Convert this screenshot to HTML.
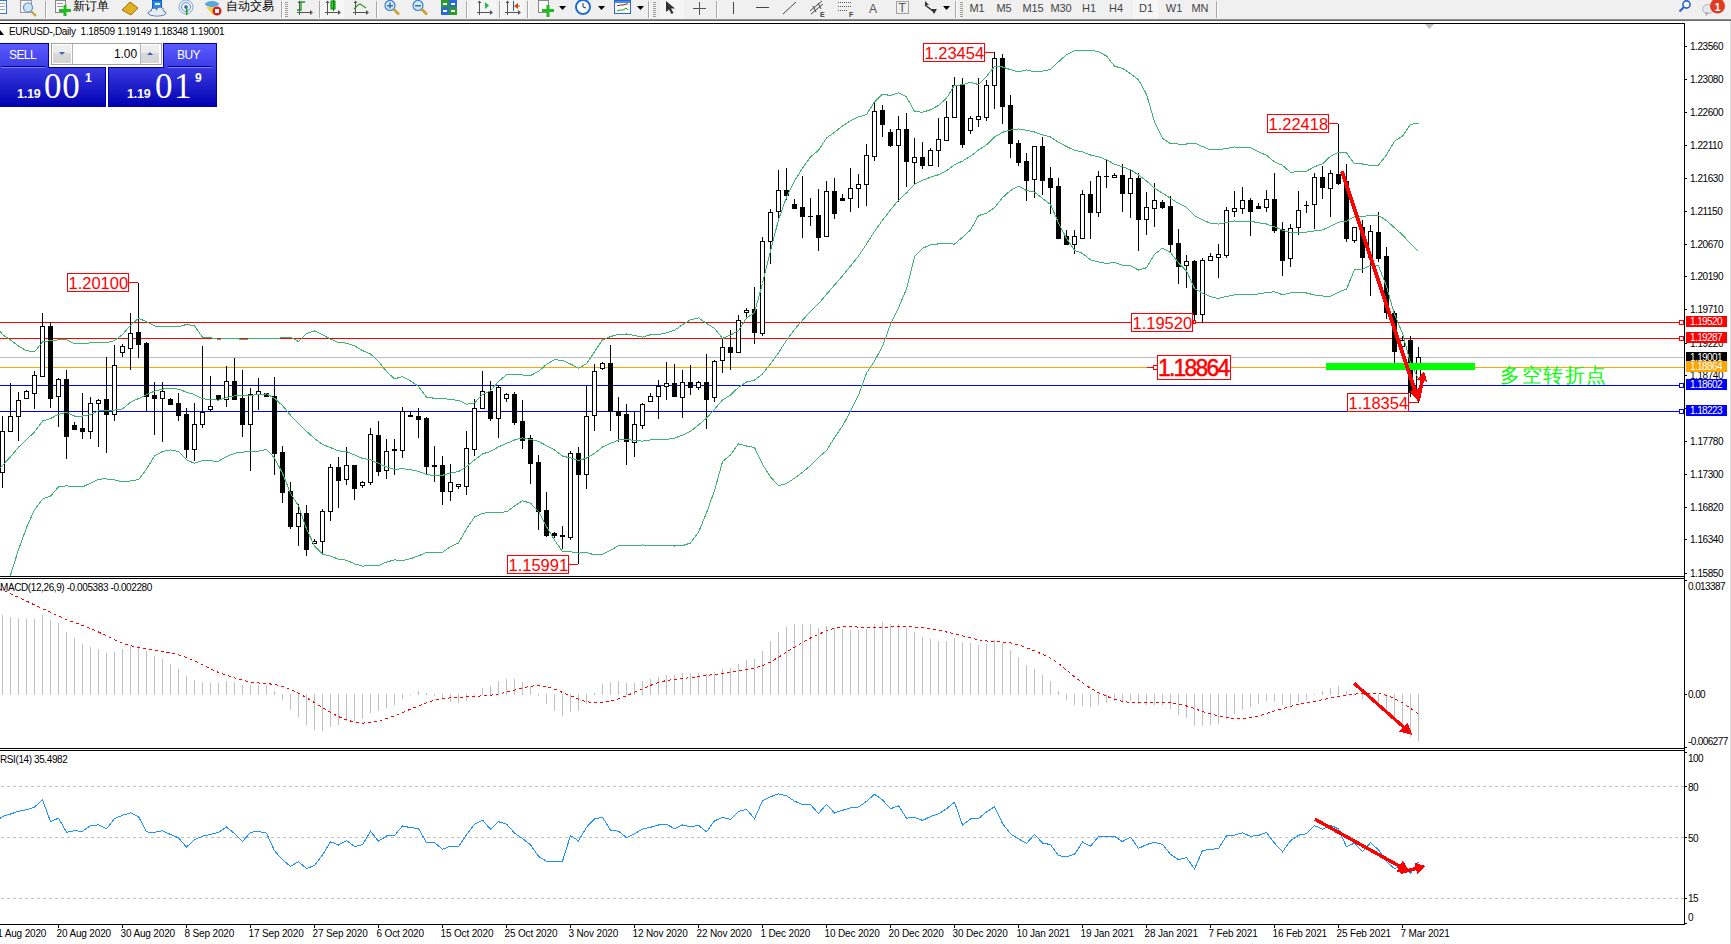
<!DOCTYPE html>
<html><head><meta charset="utf-8">
<style>
html,body{margin:0;padding:0;}
body{width:1731px;height:944px;overflow:hidden;position:relative;background:#fff;font-family:"Liberation Sans",sans-serif;}
svg text{font-family:"Liberation Sans",sans-serif;}
#tb{position:absolute;left:0;top:0;width:1731px;height:19px;background:#f0f0f0;}
#tbl1{position:absolute;left:0;top:19px;width:1731px;height:1px;background:#8c8c8c;}
#tbl2{position:absolute;left:0;top:20px;width:1731px;height:1px;background:#6a6a6a;}
#rs{position:absolute;left:1730px;top:21px;width:1px;height:923px;background:#dcdcdc;}
</style></head><body>
<div id="tb"><svg width="1731" height="19" style="position:absolute;left:0;top:0"><rect x="-6.5" y="0.5" width="13" height="13" fill="#fff" stroke="#3a78d8"/><rect x="-5" y="3" width="10" height="1" fill="#9ab"/><rect x="-5" y="6" width="10" height="1" fill="#9ab"/><rect x="-5" y="9" width="10" height="1" fill="#9ab"/><rect x="20.5" y="0.5" width="11" height="12" fill="#f4f4f4" stroke="#999"/><circle cx="28" cy="7.5" r="4.5" fill="#cfe3f5" stroke="#5b8fd0" stroke-width="1.2"/><line x1="31" y1="11" x2="36" y2="16" stroke="#c8a030" stroke-width="2"/><rect x="45" y="1" width="1" height="17" fill="#a8a8a8"/><rect x="46" y="1" width="1" height="17" fill="#ffffff"/><rect x="55.5" y="0.5" width="10" height="12" fill="#fafafa" stroke="#888"/><rect x="57" y="3" width="6" height="1" fill="#999"/><rect x="57" y="6" width="6" height="1" fill="#999"/><rect x="59" y="9" width="12" height="3" fill="#22bb22"/><rect x="63.5" y="5" width="3" height="11" fill="#22bb22"/><text x="73" y="9.8" font-size="12" fill="#000">新订单</text><polygon points="122,10 130,2 138,8 131,15" fill="#e0b020" stroke="#a07010"/><rect x="152.5" y="0.5" width="9" height="9" fill="#2a8ae8" stroke="#1060c0"/><rect x="155" y="3" width="5" height="2" fill="#dfefff"/><ellipse cx="157" cy="13" rx="9" ry="3" fill="#e8eef8" stroke="#5070a8"/><circle cx="154" cy="11" r="3" fill="#e8eef8" stroke="#5070a8"/><circle cx="160" cy="10.5" r="3.5" fill="#e8eef8" stroke="#5070a8"/><ellipse cx="157" cy="13" rx="8" ry="2.5" fill="#e8eef8"/><circle cx="186" cy="7" r="7" fill="none" stroke="#80a8e0"/><circle cx="186" cy="7" r="4.5" fill="none" stroke="#6090d8"/><circle cx="186" cy="7" r="1.8" fill="#2060d0"/><rect x="186" y="7" width="1.5" height="8" fill="#20a020"/><ellipse cx="212" cy="4" rx="7" ry="3" fill="#58a8e0"/><polygon points="206,7 219,7 213,15" fill="#f0d040"/><circle cx="217" cy="11" r="4.5" fill="#d82020"/><rect x="215" y="9" width="4" height="4" fill="#fff"/><text x="226" y="9.8" font-size="12" fill="#000">自动交易</text><rect x="281" y="1" width="1" height="17" fill="#a8a8a8"/><rect x="282" y="1" width="1" height="17" fill="#ffffff"/><rect x="285" y="2" width="3" height="1" fill="#a0a0a0"/><rect x="285" y="4" width="3" height="1" fill="#a0a0a0"/><rect x="285" y="6" width="3" height="1" fill="#a0a0a0"/><rect x="285" y="8" width="3" height="1" fill="#a0a0a0"/><rect x="285" y="10" width="3" height="1" fill="#a0a0a0"/><rect x="285" y="12" width="3" height="1" fill="#a0a0a0"/><rect x="285" y="14" width="3" height="1" fill="#a0a0a0"/><rect x="285" y="16" width="3" height="1" fill="#a0a0a0"/><rect x="299" y="1" width="1" height="14" fill="#555"/><rect x="297" y="12" width="15" height="1" fill="#555"/><polygon points="297.5,3 299.5,0.5 301.5,3" fill="#555"/><polygon points="310,10 313,12.5 310,15" fill="#555"/><polyline points="297,10 301,10 301,2 305,2" fill="none" stroke="#1a9a1a" stroke-width="1.3"/><rect x="319" y="1" width="1" height="17" fill="#a8a8a8"/><rect x="320" y="1" width="1" height="17" fill="#ffffff"/><rect x="321" y="0" width="23" height="18" fill="#f6f6f6"/><rect x="327" y="1" width="1" height="14" fill="#555"/><rect x="325" y="12" width="15" height="1" fill="#555"/><polygon points="325.5,3 327.5,0.5 329.5,3" fill="#555"/><polygon points="338,10 341,12.5 338,15" fill="#555"/><rect x="331" y="1" width="4" height="8" fill="#3c3" stroke="#080"/><rect x="333" y="0" width="1" height="11" fill="#080"/><rect x="355" y="1" width="1" height="14" fill="#555"/><rect x="353" y="12" width="15" height="1" fill="#555"/><polygon points="353.5,3 355.5,0.5 357.5,3" fill="#555"/><polygon points="366,10 369,12.5 366,15" fill="#555"/><polyline points="354,9 358,5 360,4 363,6 366,8" fill="none" stroke="#2a9a2a" stroke-width="1.2"/><rect x="376" y="1" width="1" height="17" fill="#a8a8a8"/><rect x="377" y="1" width="1" height="17" fill="#ffffff"/><circle cx="390" cy="5.5" r="5" fill="#d6ecfb" stroke="#3a80d0" stroke-width="1.2"/><line x1="393.5" y1="9" x2="399" y2="14.5" stroke="#c8a030" stroke-width="2.5"/><rect x="387" y="5" width="6" height="1.5" fill="#3a70b0"/><rect x="389.25" y="2.5" width="1.5" height="6" fill="#3a70b0"/><circle cx="418" cy="5.5" r="5" fill="#d6ecfb" stroke="#3a80d0" stroke-width="1.2"/><line x1="421.5" y1="9" x2="427" y2="14.5" stroke="#c8a030" stroke-width="2.5"/><rect x="415" y="5" width="6" height="1.5" fill="#3a70b0"/><rect x="441" y="0" width="8" height="7" fill="#2a9a2a"/><rect x="449" y="0" width="8" height="7" fill="#2a6ad8"/><rect x="441" y="7" width="8" height="8" fill="#2a6ad8"/><rect x="449" y="7" width="8" height="8" fill="#2a9a2a"/><rect x="443" y="3" width="4" height="2" fill="#fff"/><rect x="451" y="3" width="4" height="2" fill="#fff"/><rect x="443" y="10" width="4" height="2" fill="#fff"/><rect x="451" y="10" width="4" height="2" fill="#fff"/><rect x="466" y="1" width="1" height="17" fill="#a8a8a8"/><rect x="467" y="1" width="1" height="17" fill="#ffffff"/><rect x="471" y="0" width="25" height="18" fill="#f6f6f6"/><rect x="479" y="1" width="1" height="14" fill="#555"/><rect x="477" y="12" width="15" height="1" fill="#555"/><polygon points="477.5,3 479.5,0.5 481.5,3" fill="#555"/><polygon points="490,10 493,12.5 490,15" fill="#555"/><polygon points="485,2 485,9 489,5.5" fill="#22bb44"/><rect x="499" y="1" width="1" height="17" fill="#a8a8a8"/><rect x="500" y="1" width="1" height="17" fill="#ffffff"/><rect x="501" y="0" width="23" height="18" fill="#f6f6f6"/><rect x="507" y="1" width="1" height="14" fill="#555"/><rect x="505" y="12" width="15" height="1" fill="#555"/><polygon points="505.5,3 507.5,0.5 509.5,3" fill="#555"/><polygon points="518,10 521,12.5 518,15" fill="#555"/><rect x="513" y="1" width="1" height="10" fill="#2060a0"/><polygon points="514,6 518,3 518,9" fill="#e04010"/><rect x="516" y="5.5" width="4" height="1" fill="#e04010"/><rect x="527" y="1" width="1" height="17" fill="#a8a8a8"/><rect x="528" y="1" width="1" height="17" fill="#ffffff"/><rect x="538.5" y="0.5" width="10" height="12" fill="#fafafa" stroke="#888"/><rect x="542" y="9" width="12" height="3" fill="#22bb22"/><rect x="546.5" y="5" width="3" height="12" fill="#22bb22"/><polygon points="559,6 566,6 562.5,10" fill="#000"/><circle cx="583" cy="7" r="7" fill="#fff" stroke="#1e70d0" stroke-width="2"/><line x1="583" y1="3" x2="583" y2="7" stroke="#333"/><line x1="583" y1="7" x2="586" y2="8" stroke="#333"/><polygon points="598,6 605,6 601.5,10" fill="#000"/><rect x="614.5" y="0.5" width="16" height="13" fill="#fff" stroke="#2a6ad0"/><rect x="615" y="1" width="15" height="2" fill="#4a8ae0"/><polyline points="617,6 620,5 623,5 626,4 628,4" fill="none" stroke="#a02010"/><polyline points="617,11 620,10 623,10 626,8 628,10" fill="none" stroke="#20a020"/><polygon points="637,6 644,6 640.5,10" fill="#000"/><rect x="648" y="1" width="1" height="17" fill="#a8a8a8"/><rect x="649" y="1" width="1" height="17" fill="#ffffff"/><rect x="653" y="2" width="3" height="1" fill="#a0a0a0"/><rect x="653" y="4" width="3" height="1" fill="#a0a0a0"/><rect x="653" y="6" width="3" height="1" fill="#a0a0a0"/><rect x="653" y="8" width="3" height="1" fill="#a0a0a0"/><rect x="653" y="10" width="3" height="1" fill="#a0a0a0"/><rect x="653" y="12" width="3" height="1" fill="#a0a0a0"/><rect x="653" y="14" width="3" height="1" fill="#a0a0a0"/><rect x="653" y="16" width="3" height="1" fill="#a0a0a0"/><rect x="660" y="0" width="24" height="18" fill="#f6f6f6"/><polygon points="666,1 666,12 669,9.5 671.5,14 673.5,13 671,8.5 675,8.5" fill="#333"/><rect x="699" y="2" width="1" height="13" fill="#555"/><rect x="693" y="8" width="13" height="1" fill="#555"/><rect x="716" y="1" width="1" height="17" fill="#a8a8a8"/><rect x="717" y="1" width="1" height="17" fill="#ffffff"/><rect x="733" y="2" width="1" height="12" fill="#444"/><rect x="756" y="7" width="13" height="1" fill="#444"/><line x1="783" y1="14" x2="796" y2="2" stroke="#444"/><line x1="810" y1="11" x2="822" y2="1" stroke="#444"/><line x1="811" y1="14" x2="823" y2="4" stroke="#444"/><line x1="813" y1="6" x2="816" y2="12" stroke="#444"/><line x1="818" y1="3" x2="821" y2="9" stroke="#444"/><text x="820" y="17" font-size="7" font-weight="bold" fill="#444">E</text><line x1="838" y1="2.5" x2="852" y2="2.5" stroke="#555" stroke-dasharray="1 1"/><line x1="838" y1="6.5" x2="852" y2="6.5" stroke="#555" stroke-dasharray="1 1"/><line x1="838" y1="10.5" x2="848" y2="10.5" stroke="#555" stroke-dasharray="1 1"/><text x="849" y="17" font-size="7" font-weight="bold" fill="#444">F</text><text x="869" y="12.5" font-size="12" fill="#555">A</text><rect x="896.5" y="1.5" width="12" height="12" fill="none" stroke="#555" stroke-dasharray="1 1"/><text x="898.5" y="12" font-size="12" fill="#555">T</text><polygon points="925,1 929,5 925,5" fill="#333"/><line x1="925" y1="5" x2="933" y2="11" stroke="#333" stroke-width="1.5"/><polygon points="931,9 937,9 934,14" fill="#333"/><polygon points="943,6 950,6 946.5,10" fill="#000"/><rect x="955" y="1" width="1" height="17" fill="#a8a8a8"/><rect x="956" y="1" width="1" height="17" fill="#ffffff"/><rect x="960" y="2" width="3" height="1" fill="#a0a0a0"/><rect x="960" y="4" width="3" height="1" fill="#a0a0a0"/><rect x="960" y="6" width="3" height="1" fill="#a0a0a0"/><rect x="960" y="8" width="3" height="1" fill="#a0a0a0"/><rect x="960" y="10" width="3" height="1" fill="#a0a0a0"/><rect x="960" y="12" width="3" height="1" fill="#a0a0a0"/><rect x="960" y="14" width="3" height="1" fill="#a0a0a0"/><rect x="960" y="16" width="3" height="1" fill="#a0a0a0"/><rect x="1133" y="0" width="25" height="18" fill="#f6f6f6"/><text x="977" y="12" font-size="11" fill="#444" text-anchor="middle" letter-spacing="-0.1">M1</text><text x="1004" y="12" font-size="11" fill="#444" text-anchor="middle" letter-spacing="-0.1">M5</text><text x="1033" y="12" font-size="11" fill="#444" text-anchor="middle" letter-spacing="-0.1">M15</text><text x="1061" y="12" font-size="11" fill="#444" text-anchor="middle" letter-spacing="-0.1">M30</text><text x="1089" y="12" font-size="11" fill="#444" text-anchor="middle" letter-spacing="-0.1">H1</text><text x="1116" y="12" font-size="11" fill="#444" text-anchor="middle" letter-spacing="-0.1">H4</text><text x="1146" y="12" font-size="11" fill="#444" text-anchor="middle" letter-spacing="-0.1">D1</text><text x="1174" y="12" font-size="11" fill="#444" text-anchor="middle" letter-spacing="-0.1">W1</text><text x="1200" y="12" font-size="11" fill="#444" text-anchor="middle" letter-spacing="-0.1">MN</text><rect x="1216" y="1" width="1" height="17" fill="#a8a8a8"/><rect x="1217" y="1" width="1" height="17" fill="#ffffff"/><circle cx="1686.5" cy="4.5" r="3.6" fill="#fff" stroke="#2a62d0" stroke-width="1.6"/><line x1="1684" y1="7" x2="1679.5" y2="11.5" stroke="#2a62d0" stroke-width="2.2"/><ellipse cx="1708" cy="9" rx="5.5" ry="4.5" fill="#e6e8f0" stroke="#b8b8b8"/><polygon points="1705,12 1706,16 1709,13" fill="#aaa"/><circle cx="1717.5" cy="6" r="7.5" fill="#e03a20"/><text x="1717.5" y="10.5" font-size="11" font-family="Liberation Serif" font-weight="bold" fill="#fff" text-anchor="middle">1</text></svg></div><div id="tbl1"></div><div id="tbl2"></div>
<svg width="1731" height="944" style="position:absolute;left:0;top:0">
<defs><clipPath id="cpm"><rect x="0" y="24" width="1684" height="552"/></clipPath></defs>
<g shape-rendering="crispEdges"><rect x="0" y="23" width="1685" height="1" fill="#000"/>
<rect x="1684" y="23" width="1" height="902" fill="#000"/>
<rect x="0" y="576" width="1685" height="1" fill="#000"/>
<rect x="0" y="578" width="1685" height="1" fill="#000"/>
<rect x="0" y="748" width="1685" height="1" fill="#000"/>
<rect x="0" y="750" width="1685" height="1" fill="#000"/>
<rect x="0" y="924" width="1685" height="1" fill="#000"/>
<rect x="0" y="322" width="1684" height="1" fill="#ff0000"/>
<rect x="0" y="338" width="1684" height="1" fill="#ff0000"/>
<rect x="0" y="357" width="1684" height="1" fill="#c0c0c0"/>
<rect x="0" y="367" width="1684" height="1" fill="#ffa500"/>
<rect x="0" y="385" width="1684" height="1" fill="#0000ff"/>
<rect x="0" y="411" width="1684" height="1" fill="#0000ff"/>
<line x1="1" y1="786.5" x2="1684" y2="786.5" stroke="#c0c0c0" stroke-width="1" stroke-dasharray="3 3"/>
<line x1="1" y1="837.5" x2="1684" y2="837.5" stroke="#c0c0c0" stroke-width="1" stroke-dasharray="3 3"/>
<line x1="1" y1="898.5" x2="1684" y2="898.5" stroke="#c0c0c0" stroke-width="1" stroke-dasharray="3 3"/>
<rect x="2" y="416" width="1" height="72" fill="#000"/>
<rect x="0" y="431" width="5" height="42" fill="#000"/>
<rect x="1" y="432" width="3" height="40" fill="#fff"/>
<rect x="10" y="383" width="1" height="49" fill="#000"/>
<rect x="8" y="416" width="5" height="16" fill="#000"/>
<rect x="9" y="417" width="3" height="14" fill="#fff"/>
<rect x="18" y="392" width="1" height="49" fill="#000"/>
<rect x="16" y="400" width="5" height="17" fill="#000"/>
<rect x="17" y="401" width="3" height="15" fill="#fff"/>
<rect x="26" y="390" width="1" height="9" fill="#000"/>
<rect x="24" y="391" width="5" height="8" fill="#000"/>
<rect x="25" y="392" width="3" height="6" fill="#fff"/>
<rect x="34" y="371" width="1" height="38" fill="#000"/>
<rect x="32" y="375" width="5" height="19" fill="#000"/>
<rect x="33" y="376" width="3" height="17" fill="#fff"/>
<rect x="42" y="313" width="1" height="64" fill="#000"/>
<rect x="40" y="326" width="5" height="51" fill="#000"/>
<rect x="41" y="327" width="3" height="49" fill="#fff"/>
<rect x="50" y="322" width="1" height="86" fill="#000"/>
<rect x="48" y="326" width="5" height="73" fill="#000"/>
<rect x="58" y="378" width="1" height="49" fill="#000"/>
<rect x="56" y="379" width="5" height="18" fill="#000"/>
<rect x="57" y="380" width="3" height="16" fill="#fff"/>
<rect x="66" y="370" width="1" height="89" fill="#000"/>
<rect x="64" y="379" width="5" height="58" fill="#000"/>
<rect x="74" y="422" width="1" height="8" fill="#000"/>
<rect x="72" y="425" width="5" height="5" fill="#000"/>
<rect x="82" y="393" width="1" height="46" fill="#000"/>
<rect x="80" y="428" width="5" height="4" fill="#000"/>
<rect x="90" y="397" width="1" height="42" fill="#000"/>
<rect x="88" y="403" width="5" height="29" fill="#000"/>
<rect x="89" y="404" width="3" height="27" fill="#fff"/>
<rect x="98" y="399" width="1" height="48" fill="#000"/>
<rect x="96" y="400" width="5" height="4" fill="#000"/>
<rect x="97" y="401" width="3" height="2" fill="#fff"/>
<rect x="106" y="357" width="1" height="96" fill="#000"/>
<rect x="104" y="399" width="5" height="16" fill="#000"/>
<rect x="114" y="345" width="1" height="76" fill="#000"/>
<rect x="112" y="365" width="5" height="50" fill="#000"/>
<rect x="113" y="366" width="3" height="48" fill="#fff"/>
<rect x="122" y="344" width="1" height="13" fill="#000"/>
<rect x="120" y="346" width="5" height="7" fill="#000"/>
<rect x="121" y="347" width="3" height="5" fill="#fff"/>
<rect x="130" y="313" width="1" height="57" fill="#000"/>
<rect x="128" y="333" width="5" height="16" fill="#000"/>
<rect x="129" y="334" width="3" height="14" fill="#fff"/>
<rect x="138" y="283" width="1" height="75" fill="#000"/>
<rect x="136" y="332" width="5" height="13" fill="#000"/>
<rect x="146" y="342" width="1" height="70" fill="#000"/>
<rect x="144" y="343" width="5" height="54" fill="#000"/>
<rect x="154" y="382" width="1" height="53" fill="#000"/>
<rect x="152" y="395" width="5" height="4" fill="#000"/>
<rect x="162" y="382" width="1" height="60" fill="#000"/>
<rect x="160" y="391" width="5" height="8" fill="#000"/>
<rect x="161" y="392" width="3" height="6" fill="#fff"/>
<rect x="170" y="398" width="1" height="7" fill="#000"/>
<rect x="168" y="399" width="5" height="6" fill="#000"/>
<rect x="178" y="393" width="1" height="28" fill="#000"/>
<rect x="176" y="403" width="5" height="13" fill="#000"/>
<rect x="186" y="408" width="1" height="50" fill="#000"/>
<rect x="184" y="414" width="5" height="36" fill="#000"/>
<rect x="194" y="403" width="1" height="58" fill="#000"/>
<rect x="192" y="424" width="5" height="26" fill="#000"/>
<rect x="193" y="425" width="3" height="24" fill="#fff"/>
<rect x="202" y="346" width="1" height="82" fill="#000"/>
<rect x="200" y="412" width="5" height="13" fill="#000"/>
<rect x="201" y="413" width="3" height="11" fill="#fff"/>
<rect x="210" y="376" width="1" height="36" fill="#000"/>
<rect x="208" y="406" width="5" height="4" fill="#000"/>
<rect x="209" y="407" width="3" height="2" fill="#fff"/>
<rect x="218" y="395" width="1" height="6" fill="#000"/>
<rect x="216" y="395" width="5" height="5" fill="#000"/>
<rect x="226" y="366" width="1" height="41" fill="#000"/>
<rect x="224" y="381" width="5" height="19" fill="#000"/>
<rect x="225" y="382" width="3" height="17" fill="#fff"/>
<rect x="234" y="358" width="1" height="42" fill="#000"/>
<rect x="232" y="381" width="5" height="19" fill="#000"/>
<rect x="242" y="370" width="1" height="67" fill="#000"/>
<rect x="240" y="398" width="5" height="27" fill="#000"/>
<rect x="250" y="388" width="1" height="83" fill="#000"/>
<rect x="248" y="394" width="5" height="31" fill="#000"/>
<rect x="249" y="395" width="3" height="29" fill="#fff"/>
<rect x="258" y="378" width="1" height="32" fill="#000"/>
<rect x="256" y="391" width="5" height="4" fill="#000"/>
<rect x="257" y="392" width="3" height="2" fill="#fff"/>
<rect x="266" y="393" width="1" height="4" fill="#000"/>
<rect x="264" y="393" width="5" height="4" fill="#000"/>
<rect x="274" y="377" width="1" height="98" fill="#000"/>
<rect x="272" y="396" width="5" height="58" fill="#000"/>
<rect x="282" y="446" width="1" height="57" fill="#000"/>
<rect x="280" y="452" width="5" height="41" fill="#000"/>
<rect x="290" y="482" width="1" height="47" fill="#000"/>
<rect x="288" y="491" width="5" height="36" fill="#000"/>
<rect x="298" y="504" width="1" height="42" fill="#000"/>
<rect x="296" y="513" width="5" height="14" fill="#000"/>
<rect x="297" y="514" width="3" height="12" fill="#fff"/>
<rect x="306" y="505" width="1" height="51" fill="#000"/>
<rect x="304" y="513" width="5" height="37" fill="#000"/>
<rect x="314" y="539" width="1" height="5" fill="#000"/>
<rect x="312" y="541" width="5" height="3" fill="#000"/>
<rect x="313" y="542" width="3" height="1" fill="#fff"/>
<rect x="322" y="509" width="1" height="45" fill="#000"/>
<rect x="320" y="511" width="5" height="31" fill="#000"/>
<rect x="321" y="512" width="3" height="29" fill="#fff"/>
<rect x="330" y="464" width="1" height="57" fill="#000"/>
<rect x="328" y="467" width="5" height="45" fill="#000"/>
<rect x="329" y="468" width="3" height="43" fill="#fff"/>
<rect x="338" y="457" width="1" height="51" fill="#000"/>
<rect x="336" y="467" width="5" height="14" fill="#000"/>
<rect x="346" y="447" width="1" height="38" fill="#000"/>
<rect x="344" y="465" width="5" height="15" fill="#000"/>
<rect x="345" y="466" width="3" height="13" fill="#fff"/>
<rect x="354" y="465" width="1" height="35" fill="#000"/>
<rect x="352" y="465" width="5" height="24" fill="#000"/>
<rect x="362" y="481" width="1" height="7" fill="#000"/>
<rect x="360" y="482" width="5" height="4" fill="#000"/>
<rect x="361" y="483" width="3" height="2" fill="#fff"/>
<rect x="370" y="428" width="1" height="57" fill="#000"/>
<rect x="368" y="434" width="5" height="49" fill="#000"/>
<rect x="369" y="435" width="3" height="47" fill="#fff"/>
<rect x="378" y="421" width="1" height="55" fill="#000"/>
<rect x="376" y="435" width="5" height="37" fill="#000"/>
<rect x="386" y="439" width="1" height="40" fill="#000"/>
<rect x="384" y="451" width="5" height="20" fill="#000"/>
<rect x="385" y="452" width="3" height="18" fill="#fff"/>
<rect x="394" y="439" width="1" height="36" fill="#000"/>
<rect x="392" y="449" width="5" height="2" fill="#000"/>
<rect x="402" y="407" width="1" height="51" fill="#000"/>
<rect x="400" y="411" width="5" height="40" fill="#000"/>
<rect x="401" y="412" width="3" height="38" fill="#fff"/>
<rect x="410" y="412" width="1" height="5" fill="#000"/>
<rect x="408" y="415" width="5" height="2" fill="#000"/>
<rect x="418" y="408" width="1" height="30" fill="#000"/>
<rect x="416" y="416" width="5" height="4" fill="#000"/>
<rect x="426" y="417" width="1" height="58" fill="#000"/>
<rect x="424" y="418" width="5" height="49" fill="#000"/>
<rect x="434" y="446" width="1" height="36" fill="#000"/>
<rect x="432" y="465" width="5" height="2" fill="#000"/>
<rect x="442" y="456" width="1" height="49" fill="#000"/>
<rect x="440" y="465" width="5" height="27" fill="#000"/>
<rect x="450" y="464" width="1" height="37" fill="#000"/>
<rect x="448" y="482" width="5" height="10" fill="#000"/>
<rect x="449" y="483" width="3" height="8" fill="#fff"/>
<rect x="458" y="484" width="1" height="5" fill="#000"/>
<rect x="456" y="484" width="5" height="3" fill="#000"/>
<rect x="457" y="485" width="3" height="1" fill="#fff"/>
<rect x="466" y="431" width="1" height="64" fill="#000"/>
<rect x="464" y="448" width="5" height="39" fill="#000"/>
<rect x="465" y="449" width="3" height="37" fill="#fff"/>
<rect x="474" y="399" width="1" height="57" fill="#000"/>
<rect x="472" y="408" width="5" height="42" fill="#000"/>
<rect x="473" y="409" width="3" height="40" fill="#fff"/>
<rect x="482" y="371" width="1" height="38" fill="#000"/>
<rect x="480" y="391" width="5" height="18" fill="#000"/>
<rect x="481" y="392" width="3" height="16" fill="#fff"/>
<rect x="490" y="381" width="1" height="40" fill="#000"/>
<rect x="488" y="391" width="5" height="28" fill="#000"/>
<rect x="498" y="385" width="1" height="53" fill="#000"/>
<rect x="496" y="387" width="5" height="32" fill="#000"/>
<rect x="497" y="388" width="3" height="30" fill="#fff"/>
<rect x="506" y="393" width="1" height="9" fill="#000"/>
<rect x="504" y="394" width="5" height="5" fill="#000"/>
<rect x="505" y="395" width="3" height="3" fill="#fff"/>
<rect x="514" y="392" width="1" height="33" fill="#000"/>
<rect x="512" y="394" width="5" height="29" fill="#000"/>
<rect x="522" y="400" width="1" height="49" fill="#000"/>
<rect x="520" y="421" width="5" height="20" fill="#000"/>
<rect x="530" y="435" width="1" height="49" fill="#000"/>
<rect x="528" y="438" width="5" height="26" fill="#000"/>
<rect x="538" y="455" width="1" height="75" fill="#000"/>
<rect x="536" y="462" width="5" height="50" fill="#000"/>
<rect x="546" y="492" width="1" height="45" fill="#000"/>
<rect x="544" y="510" width="5" height="26" fill="#000"/>
<rect x="554" y="532" width="1" height="6" fill="#000"/>
<rect x="552" y="533" width="5" height="3" fill="#000"/>
<rect x="562" y="526" width="1" height="23" fill="#000"/>
<rect x="560" y="535" width="5" height="2" fill="#000"/>
<rect x="570" y="451" width="1" height="89" fill="#000"/>
<rect x="568" y="453" width="5" height="85" fill="#000"/>
<rect x="569" y="454" width="3" height="83" fill="#fff"/>
<rect x="578" y="447" width="1" height="117" fill="#000"/>
<rect x="576" y="453" width="5" height="22" fill="#000"/>
<rect x="586" y="386" width="1" height="103" fill="#000"/>
<rect x="584" y="416" width="5" height="59" fill="#000"/>
<rect x="585" y="417" width="3" height="57" fill="#fff"/>
<rect x="594" y="364" width="1" height="67" fill="#000"/>
<rect x="592" y="371" width="5" height="45" fill="#000"/>
<rect x="593" y="372" width="3" height="43" fill="#fff"/>
<rect x="602" y="362" width="1" height="8" fill="#000"/>
<rect x="600" y="363" width="5" height="6" fill="#000"/>
<rect x="601" y="364" width="3" height="4" fill="#fff"/>
<rect x="610" y="345" width="1" height="86" fill="#000"/>
<rect x="608" y="363" width="5" height="49" fill="#000"/>
<rect x="618" y="397" width="1" height="45" fill="#000"/>
<rect x="616" y="411" width="5" height="5" fill="#000"/>
<rect x="626" y="404" width="1" height="61" fill="#000"/>
<rect x="624" y="414" width="5" height="28" fill="#000"/>
<rect x="634" y="411" width="1" height="46" fill="#000"/>
<rect x="632" y="424" width="5" height="19" fill="#000"/>
<rect x="633" y="425" width="3" height="17" fill="#fff"/>
<rect x="642" y="403" width="1" height="26" fill="#000"/>
<rect x="640" y="404" width="5" height="22" fill="#000"/>
<rect x="641" y="405" width="3" height="20" fill="#fff"/>
<rect x="650" y="393" width="1" height="9" fill="#000"/>
<rect x="648" y="396" width="5" height="6" fill="#000"/>
<rect x="649" y="397" width="3" height="4" fill="#fff"/>
<rect x="658" y="380" width="1" height="39" fill="#000"/>
<rect x="656" y="386" width="5" height="11" fill="#000"/>
<rect x="657" y="387" width="3" height="9" fill="#fff"/>
<rect x="666" y="362" width="1" height="38" fill="#000"/>
<rect x="664" y="383" width="5" height="4" fill="#000"/>
<rect x="665" y="384" width="3" height="2" fill="#fff"/>
<rect x="674" y="364" width="1" height="33" fill="#000"/>
<rect x="672" y="383" width="5" height="14" fill="#000"/>
<rect x="682" y="370" width="1" height="48" fill="#000"/>
<rect x="680" y="382" width="5" height="16" fill="#000"/>
<rect x="681" y="383" width="3" height="14" fill="#fff"/>
<rect x="690" y="365" width="1" height="30" fill="#000"/>
<rect x="688" y="382" width="5" height="6" fill="#000"/>
<rect x="698" y="381" width="1" height="9" fill="#000"/>
<rect x="696" y="382" width="5" height="6" fill="#000"/>
<rect x="697" y="383" width="3" height="4" fill="#fff"/>
<rect x="706" y="354" width="1" height="75" fill="#000"/>
<rect x="704" y="382" width="5" height="18" fill="#000"/>
<rect x="714" y="360" width="1" height="42" fill="#000"/>
<rect x="712" y="361" width="5" height="37" fill="#000"/>
<rect x="713" y="362" width="3" height="35" fill="#fff"/>
<rect x="722" y="338" width="1" height="35" fill="#000"/>
<rect x="720" y="347" width="5" height="14" fill="#000"/>
<rect x="721" y="348" width="3" height="12" fill="#fff"/>
<rect x="730" y="330" width="1" height="40" fill="#000"/>
<rect x="728" y="347" width="5" height="6" fill="#000"/>
<rect x="738" y="315" width="1" height="38" fill="#000"/>
<rect x="736" y="320" width="5" height="33" fill="#000"/>
<rect x="737" y="321" width="3" height="31" fill="#fff"/>
<rect x="746" y="308" width="1" height="9" fill="#000"/>
<rect x="744" y="310" width="5" height="3" fill="#000"/>
<rect x="745" y="311" width="3" height="1" fill="#fff"/>
<rect x="754" y="287" width="1" height="57" fill="#000"/>
<rect x="752" y="309" width="5" height="24" fill="#000"/>
<rect x="762" y="237" width="1" height="99" fill="#000"/>
<rect x="760" y="241" width="5" height="93" fill="#000"/>
<rect x="761" y="242" width="3" height="91" fill="#fff"/>
<rect x="770" y="209" width="1" height="55" fill="#000"/>
<rect x="768" y="212" width="5" height="30" fill="#000"/>
<rect x="769" y="213" width="3" height="28" fill="#fff"/>
<rect x="778" y="170" width="1" height="51" fill="#000"/>
<rect x="776" y="190" width="5" height="22" fill="#000"/>
<rect x="777" y="191" width="3" height="20" fill="#fff"/>
<rect x="786" y="168" width="1" height="32" fill="#000"/>
<rect x="784" y="190" width="5" height="6" fill="#000"/>
<rect x="794" y="199" width="1" height="10" fill="#000"/>
<rect x="792" y="204" width="5" height="5" fill="#000"/>
<rect x="802" y="176" width="1" height="62" fill="#000"/>
<rect x="800" y="207" width="5" height="10" fill="#000"/>
<rect x="810" y="198" width="1" height="28" fill="#000"/>
<rect x="808" y="216" width="5" height="1" fill="#000"/>
<rect x="818" y="189" width="1" height="62" fill="#000"/>
<rect x="816" y="215" width="5" height="23" fill="#000"/>
<rect x="826" y="181" width="1" height="56" fill="#000"/>
<rect x="824" y="191" width="5" height="46" fill="#000"/>
<rect x="825" y="192" width="3" height="44" fill="#fff"/>
<rect x="834" y="178" width="1" height="41" fill="#000"/>
<rect x="832" y="191" width="5" height="23" fill="#000"/>
<rect x="842" y="194" width="1" height="7" fill="#000"/>
<rect x="840" y="198" width="5" height="3" fill="#000"/>
<rect x="850" y="168" width="1" height="44" fill="#000"/>
<rect x="848" y="188" width="5" height="11" fill="#000"/>
<rect x="849" y="189" width="3" height="9" fill="#fff"/>
<rect x="858" y="174" width="1" height="34" fill="#000"/>
<rect x="856" y="184" width="5" height="5" fill="#000"/>
<rect x="857" y="185" width="3" height="3" fill="#fff"/>
<rect x="866" y="144" width="1" height="62" fill="#000"/>
<rect x="864" y="155" width="5" height="30" fill="#000"/>
<rect x="865" y="156" width="3" height="28" fill="#fff"/>
<rect x="874" y="103" width="1" height="58" fill="#000"/>
<rect x="872" y="111" width="5" height="46" fill="#000"/>
<rect x="873" y="112" width="3" height="44" fill="#fff"/>
<rect x="882" y="105" width="1" height="32" fill="#000"/>
<rect x="880" y="110" width="5" height="15" fill="#000"/>
<rect x="890" y="129" width="1" height="18" fill="#000"/>
<rect x="888" y="132" width="5" height="14" fill="#000"/>
<rect x="898" y="116" width="1" height="86" fill="#000"/>
<rect x="896" y="129" width="5" height="17" fill="#000"/>
<rect x="897" y="130" width="3" height="15" fill="#fff"/>
<rect x="906" y="113" width="1" height="74" fill="#000"/>
<rect x="904" y="129" width="5" height="33" fill="#000"/>
<rect x="914" y="138" width="1" height="47" fill="#000"/>
<rect x="912" y="157" width="5" height="6" fill="#000"/>
<rect x="913" y="158" width="3" height="4" fill="#fff"/>
<rect x="922" y="142" width="1" height="27" fill="#000"/>
<rect x="920" y="157" width="5" height="9" fill="#000"/>
<rect x="930" y="148" width="1" height="18" fill="#000"/>
<rect x="928" y="150" width="5" height="16" fill="#000"/>
<rect x="929" y="151" width="3" height="14" fill="#fff"/>
<rect x="938" y="118" width="1" height="49" fill="#000"/>
<rect x="936" y="139" width="5" height="12" fill="#000"/>
<rect x="937" y="140" width="3" height="10" fill="#fff"/>
<rect x="946" y="101" width="1" height="40" fill="#000"/>
<rect x="944" y="117" width="5" height="24" fill="#000"/>
<rect x="945" y="118" width="3" height="22" fill="#fff"/>
<rect x="954" y="77" width="1" height="41" fill="#000"/>
<rect x="952" y="85" width="5" height="33" fill="#000"/>
<rect x="953" y="86" width="3" height="31" fill="#fff"/>
<rect x="962" y="78" width="1" height="70" fill="#000"/>
<rect x="960" y="85" width="5" height="60" fill="#000"/>
<rect x="970" y="116" width="1" height="18" fill="#000"/>
<rect x="968" y="118" width="5" height="13" fill="#000"/>
<rect x="969" y="119" width="3" height="11" fill="#fff"/>
<rect x="978" y="78" width="1" height="49" fill="#000"/>
<rect x="976" y="116" width="5" height="4" fill="#000"/>
<rect x="977" y="117" width="3" height="2" fill="#fff"/>
<rect x="986" y="80" width="1" height="41" fill="#000"/>
<rect x="984" y="85" width="5" height="33" fill="#000"/>
<rect x="985" y="86" width="3" height="31" fill="#fff"/>
<rect x="994" y="52" width="1" height="57" fill="#000"/>
<rect x="992" y="58" width="5" height="28" fill="#000"/>
<rect x="993" y="59" width="3" height="26" fill="#fff"/>
<rect x="1002" y="54" width="1" height="70" fill="#000"/>
<rect x="1000" y="58" width="5" height="49" fill="#000"/>
<rect x="1010" y="95" width="1" height="63" fill="#000"/>
<rect x="1008" y="105" width="5" height="39" fill="#000"/>
<rect x="1018" y="140" width="1" height="26" fill="#000"/>
<rect x="1016" y="143" width="5" height="20" fill="#000"/>
<rect x="1026" y="153" width="1" height="48" fill="#000"/>
<rect x="1024" y="161" width="5" height="20" fill="#000"/>
<rect x="1034" y="146" width="1" height="52" fill="#000"/>
<rect x="1032" y="146" width="5" height="34" fill="#000"/>
<rect x="1033" y="147" width="3" height="32" fill="#fff"/>
<rect x="1042" y="137" width="1" height="58" fill="#000"/>
<rect x="1040" y="146" width="5" height="35" fill="#000"/>
<rect x="1050" y="167" width="1" height="47" fill="#000"/>
<rect x="1048" y="178" width="5" height="10" fill="#000"/>
<rect x="1058" y="178" width="1" height="61" fill="#000"/>
<rect x="1056" y="186" width="5" height="53" fill="#000"/>
<rect x="1066" y="230" width="1" height="15" fill="#000"/>
<rect x="1064" y="236" width="5" height="9" fill="#000"/>
<rect x="1074" y="230" width="1" height="24" fill="#000"/>
<rect x="1072" y="236" width="5" height="9" fill="#000"/>
<rect x="1073" y="237" width="3" height="7" fill="#fff"/>
<rect x="1082" y="190" width="1" height="49" fill="#000"/>
<rect x="1080" y="194" width="5" height="45" fill="#000"/>
<rect x="1081" y="195" width="3" height="43" fill="#fff"/>
<rect x="1090" y="181" width="1" height="58" fill="#000"/>
<rect x="1088" y="194" width="5" height="19" fill="#000"/>
<rect x="1098" y="171" width="1" height="46" fill="#000"/>
<rect x="1096" y="176" width="5" height="37" fill="#000"/>
<rect x="1097" y="177" width="3" height="35" fill="#fff"/>
<rect x="1106" y="159" width="1" height="29" fill="#000"/>
<rect x="1104" y="176" width="5" height="1" fill="#000"/>
<rect x="1114" y="173" width="1" height="5" fill="#000"/>
<rect x="1112" y="175" width="5" height="3" fill="#000"/>
<rect x="1113" y="176" width="3" height="1" fill="#fff"/>
<rect x="1122" y="164" width="1" height="48" fill="#000"/>
<rect x="1120" y="175" width="5" height="19" fill="#000"/>
<rect x="1130" y="169" width="1" height="49" fill="#000"/>
<rect x="1128" y="178" width="5" height="16" fill="#000"/>
<rect x="1129" y="179" width="3" height="14" fill="#fff"/>
<rect x="1138" y="173" width="1" height="78" fill="#000"/>
<rect x="1136" y="178" width="5" height="42" fill="#000"/>
<rect x="1146" y="192" width="1" height="43" fill="#000"/>
<rect x="1144" y="207" width="5" height="13" fill="#000"/>
<rect x="1145" y="208" width="3" height="11" fill="#fff"/>
<rect x="1154" y="183" width="1" height="44" fill="#000"/>
<rect x="1152" y="200" width="5" height="9" fill="#000"/>
<rect x="1153" y="201" width="3" height="7" fill="#fff"/>
<rect x="1162" y="200" width="1" height="9" fill="#000"/>
<rect x="1160" y="202" width="5" height="6" fill="#000"/>
<rect x="1170" y="196" width="1" height="57" fill="#000"/>
<rect x="1168" y="206" width="5" height="39" fill="#000"/>
<rect x="1178" y="229" width="1" height="55" fill="#000"/>
<rect x="1176" y="243" width="5" height="24" fill="#000"/>
<rect x="1186" y="255" width="1" height="33" fill="#000"/>
<rect x="1184" y="261" width="5" height="5" fill="#000"/>
<rect x="1185" y="262" width="3" height="3" fill="#fff"/>
<rect x="1194" y="260" width="1" height="63" fill="#000"/>
<rect x="1192" y="261" width="5" height="54" fill="#000"/>
<rect x="1202" y="258" width="1" height="65" fill="#000"/>
<rect x="1200" y="260" width="5" height="55" fill="#000"/>
<rect x="1201" y="261" width="3" height="53" fill="#fff"/>
<rect x="1210" y="253" width="1" height="8" fill="#000"/>
<rect x="1208" y="256" width="5" height="5" fill="#000"/>
<rect x="1209" y="257" width="3" height="3" fill="#fff"/>
<rect x="1218" y="244" width="1" height="34" fill="#000"/>
<rect x="1216" y="254" width="5" height="4" fill="#000"/>
<rect x="1217" y="255" width="3" height="2" fill="#fff"/>
<rect x="1226" y="207" width="1" height="51" fill="#000"/>
<rect x="1224" y="210" width="5" height="46" fill="#000"/>
<rect x="1225" y="211" width="3" height="44" fill="#fff"/>
<rect x="1234" y="191" width="1" height="26" fill="#000"/>
<rect x="1232" y="208" width="5" height="4" fill="#000"/>
<rect x="1233" y="209" width="3" height="2" fill="#fff"/>
<rect x="1242" y="187" width="1" height="27" fill="#000"/>
<rect x="1240" y="200" width="5" height="9" fill="#000"/>
<rect x="1241" y="201" width="3" height="7" fill="#fff"/>
<rect x="1250" y="198" width="1" height="38" fill="#000"/>
<rect x="1248" y="200" width="5" height="12" fill="#000"/>
<rect x="1258" y="203" width="1" height="6" fill="#000"/>
<rect x="1256" y="206" width="5" height="3" fill="#000"/>
<rect x="1266" y="190" width="1" height="22" fill="#000"/>
<rect x="1264" y="199" width="5" height="9" fill="#000"/>
<rect x="1265" y="200" width="3" height="7" fill="#fff"/>
<rect x="1274" y="173" width="1" height="60" fill="#000"/>
<rect x="1272" y="199" width="5" height="32" fill="#000"/>
<rect x="1282" y="222" width="1" height="54" fill="#000"/>
<rect x="1280" y="229" width="5" height="32" fill="#000"/>
<rect x="1290" y="224" width="1" height="43" fill="#000"/>
<rect x="1288" y="228" width="5" height="31" fill="#000"/>
<rect x="1289" y="229" width="3" height="29" fill="#fff"/>
<rect x="1298" y="191" width="1" height="44" fill="#000"/>
<rect x="1296" y="210" width="5" height="18" fill="#000"/>
<rect x="1297" y="211" width="3" height="16" fill="#fff"/>
<rect x="1306" y="201" width="1" height="12" fill="#000"/>
<rect x="1304" y="205" width="5" height="1" fill="#000"/>
<rect x="1314" y="173" width="1" height="56" fill="#000"/>
<rect x="1312" y="177" width="5" height="28" fill="#000"/>
<rect x="1313" y="178" width="3" height="26" fill="#fff"/>
<rect x="1322" y="166" width="1" height="33" fill="#000"/>
<rect x="1320" y="177" width="5" height="11" fill="#000"/>
<rect x="1330" y="170" width="1" height="47" fill="#000"/>
<rect x="1328" y="173" width="5" height="16" fill="#000"/>
<rect x="1329" y="174" width="3" height="14" fill="#fff"/>
<rect x="1338" y="124" width="1" height="61" fill="#000"/>
<rect x="1336" y="174" width="5" height="10" fill="#000"/>
<rect x="1346" y="164" width="1" height="78" fill="#000"/>
<rect x="1344" y="181" width="5" height="58" fill="#000"/>
<rect x="1354" y="227" width="1" height="16" fill="#000"/>
<rect x="1352" y="227" width="5" height="14" fill="#000"/>
<rect x="1353" y="228" width="3" height="12" fill="#fff"/>
<rect x="1362" y="220" width="1" height="53" fill="#000"/>
<rect x="1360" y="227" width="5" height="31" fill="#000"/>
<rect x="1370" y="225" width="1" height="71" fill="#000"/>
<rect x="1368" y="231" width="5" height="27" fill="#000"/>
<rect x="1369" y="232" width="3" height="25" fill="#fff"/>
<rect x="1378" y="212" width="1" height="50" fill="#000"/>
<rect x="1376" y="232" width="5" height="27" fill="#000"/>
<rect x="1386" y="247" width="1" height="72" fill="#000"/>
<rect x="1384" y="256" width="5" height="57" fill="#000"/>
<rect x="1394" y="311" width="1" height="53" fill="#000"/>
<rect x="1392" y="313" width="5" height="39" fill="#000"/>
<rect x="1402" y="336" width="1" height="11" fill="#000"/>
<rect x="1400" y="340" width="5" height="7" fill="#000"/>
<rect x="1401" y="341" width="3" height="5" fill="#fff"/>
<rect x="1410" y="336" width="1" height="61" fill="#000"/>
<rect x="1408" y="340" width="5" height="53" fill="#000"/>
<rect x="1418" y="347" width="1" height="56" fill="#000"/>
<rect x="1416" y="357" width="5" height="35" fill="#000"/>
<rect x="1417" y="358" width="3" height="33" fill="#fff"/>
<g clip-path="url(#cpm)">
<polyline points="-5.5,323.5 2.5,334.5 10.5,340.1 18.5,346.1 26.5,350.7 34.5,351.9 42.5,341.9 50.5,340.5 58.5,339.9 66.5,339.9 74.5,343.8 82.5,343.8 90.5,342.8 98.5,342.8 106.5,342.8 114.5,340.5 122.5,334.5 130.5,325.3 138.5,318.4 146.5,321.6 154.5,326.0 162.5,326.7 170.5,327.0 178.5,326.8 186.5,324.4 194.5,325.8 202.5,337.3 210.5,337.6 218.5,339.3 226.5,338.4 234.5,338.7 242.5,339.2 250.5,338.9 258.5,338.4 266.5,338.3 274.5,338.6 282.5,337.8 290.5,337.1 298.5,341.5 306.5,333.6 314.5,331.0 322.5,334.8 330.5,339.1 338.5,342.5 346.5,343.1 354.5,345.9 362.5,350.6 370.5,354.0 378.5,361.2 386.5,371.6 394.5,378.8 402.5,376.7 410.5,380.9 418.5,386.5 426.5,397.1 434.5,398.3 442.5,398.3 450.5,399.6 458.5,400.3 466.5,404.3 474.5,402.9 482.5,394.6 490.5,390.6 498.5,381.5 506.5,374.7 514.5,374.1 522.5,375.0 530.5,375.5 538.5,371.4 546.5,364.4 554.5,359.7 562.5,360.4 570.5,364.0 578.5,368.2 586.5,363.8 594.5,351.9 602.5,339.9 610.5,336.6 618.5,334.2 626.5,334.0 634.5,335.5 642.5,337.2 650.5,334.7 658.5,334.6 666.5,333.0 674.5,330.2 682.5,324.7 690.5,319.8 698.5,317.8 706.5,323.4 714.5,328.4 722.5,338.4 730.5,335.1 738.5,330.8 746.5,318.0 754.5,312.6 762.5,283.5 770.5,251.2 778.5,219.7 786.5,197.4 794.5,181.1 802.5,168.1 810.5,156.9 818.5,150.3 826.5,137.9 834.5,132.4 842.5,125.9 850.5,120.6 858.5,116.9 866.5,114.7 874.5,101.8 882.5,94.2 890.5,95.5 898.5,92.8 906.5,96.9 914.5,111.5 922.5,112.3 930.5,109.7 938.5,105.5 946.5,98.1 954.5,85.2 962.5,84.9 970.5,82.3 978.5,84.6 986.5,76.4 994.5,66.5 1002.5,67.0 1010.5,69.7 1018.5,71.9 1026.5,69.9 1034.5,71.9 1042.5,71.2 1050.5,69.4 1058.5,61.8 1066.5,54.6 1074.5,50.6 1082.5,50.4 1090.5,50.1 1098.5,51.8 1106.5,56.0 1114.5,66.2 1122.5,68.3 1130.5,73.7 1138.5,79.8 1146.5,94.3 1154.5,121.9 1162.5,138.2 1170.5,143.8 1178.5,144.0 1186.5,144.0 1194.5,143.1 1202.5,146.5 1210.5,149.9 1218.5,149.7 1226.5,148.4 1234.5,147.0 1242.5,147.7 1250.5,147.6 1258.5,151.8 1266.5,155.3 1274.5,161.8 1282.5,165.4 1290.5,172.4 1298.5,171.4 1306.5,171.1 1314.5,166.8 1322.5,163.8 1330.5,156.3 1338.5,152.3 1346.5,153.0 1354.5,163.7 1362.5,164.0 1370.5,165.5 1378.5,165.1 1386.5,154.9 1394.5,141.1 1402.5,136.2 1410.5,124.4 1418.5,123.3" fill="none" stroke="#3cb371" stroke-width="1" />
<polyline points="-5.5,474.5 2.5,465.5 10.5,456.8 18.5,447.2 26.5,439.6 34.5,432.0 42.5,421.0 50.5,418.6 58.5,414.3 66.5,412.4 74.5,416.0 82.5,416.0 90.5,414.6 98.5,410.8 106.5,410.8 114.5,410.1 122.5,408.9 130.5,402.2 138.5,398.6 146.5,394.8 154.5,391.1 162.5,389.1 170.5,388.4 178.5,389.2 186.5,392.1 194.5,394.6 202.5,398.9 210.5,399.2 218.5,400.2 226.5,397.5 234.5,396.0 242.5,395.6 250.5,395.2 258.5,394.8 266.5,393.9 274.5,398.2 282.5,405.6 290.5,415.2 298.5,423.6 306.5,431.3 314.5,438.4 322.5,444.4 330.5,447.6 338.5,450.9 346.5,451.6 354.5,454.9 362.5,458.4 370.5,459.8 378.5,463.4 386.5,466.9 394.5,469.4 402.5,468.7 410.5,469.8 418.5,471.2 426.5,474.7 434.5,475.4 442.5,475.3 450.5,473.1 458.5,471.6 466.5,466.6 474.5,459.9 482.5,453.9 490.5,451.5 498.5,446.9 506.5,443.3 514.5,440.0 522.5,437.9 530.5,439.4 538.5,441.4 546.5,445.6 554.5,449.9 562.5,456.1 570.5,457.9 578.5,460.6 586.5,458.1 594.5,453.4 602.5,447.0 610.5,443.4 618.5,440.0 626.5,439.6 634.5,440.4 642.5,441.1 650.5,440.0 658.5,439.9 666.5,439.4 674.5,438.1 682.5,435.2 690.5,431.4 698.5,424.9 706.5,418.1 714.5,409.4 722.5,400.1 730.5,395.0 738.5,387.3 746.5,382.0 754.5,380.1 762.5,373.9 770.5,364.0 778.5,352.8 786.5,340.4 794.5,329.6 802.5,320.2 810.5,311.2 818.5,303.8 826.5,294.2 834.5,285.1 842.5,275.9 850.5,266.0 858.5,256.1 866.5,243.9 874.5,231.4 882.5,220.2 890.5,209.9 898.5,200.3 906.5,192.9 914.5,184.2 922.5,180.3 930.5,177.2 938.5,174.7 946.5,170.8 954.5,164.7 962.5,161.1 970.5,156.2 978.5,150.1 986.5,144.8 994.5,137.1 1002.5,132.3 1010.5,130.1 1018.5,129.0 1026.5,130.2 1034.5,132.0 1042.5,134.8 1050.5,136.9 1058.5,142.3 1066.5,146.5 1074.5,150.4 1082.5,151.9 1090.5,155.0 1098.5,156.8 1106.5,159.8 1114.5,164.3 1122.5,166.8 1130.5,169.8 1138.5,174.9 1146.5,181.0 1154.5,188.1 1162.5,193.2 1170.5,198.2 1178.5,203.4 1186.5,207.4 1194.5,215.8 1202.5,219.8 1210.5,223.3 1218.5,224.1 1226.5,222.4 1234.5,221.0 1242.5,221.3 1250.5,221.2 1258.5,222.8 1266.5,224.0 1274.5,226.8 1282.5,230.1 1290.5,232.6 1298.5,232.2 1306.5,232.1 1314.5,230.9 1322.5,229.9 1330.5,226.3 1338.5,222.2 1346.5,221.1 1354.5,216.7 1362.5,216.6 1370.5,215.3 1378.5,215.5 1386.5,220.6 1394.5,227.8 1402.5,234.8 1410.5,243.8 1418.5,251.2" fill="none" stroke="#3cb371" stroke-width="1" />
<polyline points="-5.5,625.5 2.5,600.5 10.5,575.1 18.5,549.7 26.5,527.6 34.5,509.8 42.5,499.1 50.5,496.1 58.5,486.9 66.5,485.8 74.5,486.9 82.5,486.9 90.5,483.2 98.5,479.1 106.5,478.9 114.5,479.8 122.5,481.9 130.5,480.9 138.5,479.7 146.5,469.1 154.5,456.1 162.5,451.4 170.5,449.9 178.5,451.6 186.5,459.8 194.5,463.3 202.5,460.4 210.5,460.9 218.5,461.2 226.5,456.6 234.5,453.3 242.5,452.1 250.5,451.5 258.5,451.1 266.5,449.4 274.5,457.9 282.5,473.3 290.5,493.3 298.5,505.8 306.5,529.0 314.5,545.9 322.5,554.1 330.5,556.1 338.5,559.2 346.5,560.2 354.5,563.8 362.5,566.1 370.5,565.5 378.5,565.5 386.5,562.1 394.5,559.9 402.5,560.7 410.5,558.7 418.5,555.9 426.5,552.3 434.5,552.4 442.5,552.3 450.5,546.6 458.5,543.0 466.5,528.9 474.5,517.0 482.5,513.3 490.5,512.4 498.5,512.2 506.5,511.9 514.5,505.9 522.5,500.8 530.5,503.2 538.5,511.3 546.5,526.7 554.5,540.0 562.5,551.7 570.5,551.8 578.5,553.1 586.5,552.5 594.5,554.9 602.5,554.1 610.5,550.3 618.5,545.8 626.5,545.3 634.5,545.4 642.5,545.0 650.5,545.3 658.5,545.3 666.5,545.8 674.5,546.0 682.5,545.7 690.5,543.0 698.5,532.1 706.5,512.9 714.5,490.5 722.5,461.7 730.5,454.9 738.5,443.8 746.5,446.0 754.5,447.5 762.5,464.4 770.5,476.8 778.5,485.8 786.5,483.5 794.5,478.2 802.5,472.4 810.5,465.6 818.5,457.3 826.5,450.5 834.5,437.7 842.5,426.0 850.5,411.4 858.5,395.3 866.5,373.1 874.5,361.0 882.5,346.3 890.5,324.3 898.5,307.9 906.5,288.9 914.5,256.8 922.5,248.4 930.5,244.8 938.5,243.9 946.5,243.5 954.5,244.1 962.5,237.2 970.5,230.0 978.5,215.6 986.5,213.2 994.5,207.6 1002.5,197.7 1010.5,190.5 1018.5,186.1 1026.5,190.6 1034.5,192.1 1042.5,198.4 1050.5,204.4 1058.5,222.9 1066.5,238.4 1074.5,250.3 1082.5,253.4 1090.5,259.9 1098.5,261.9 1106.5,263.6 1114.5,262.4 1122.5,265.2 1130.5,265.8 1138.5,270.0 1146.5,267.7 1154.5,254.3 1162.5,248.1 1170.5,252.6 1178.5,262.8 1186.5,270.9 1194.5,288.6 1202.5,293.2 1210.5,296.7 1218.5,298.5 1226.5,296.4 1234.5,295.0 1242.5,294.9 1250.5,294.9 1258.5,293.9 1266.5,292.7 1274.5,291.7 1282.5,294.8 1290.5,292.8 1298.5,292.9 1306.5,293.0 1314.5,295.0 1322.5,296.0 1330.5,296.4 1338.5,292.1 1346.5,289.1 1354.5,269.7 1362.5,269.1 1370.5,265.1 1378.5,265.9 1386.5,286.3 1394.5,314.4 1402.5,333.3 1410.5,363.2 1418.5,379.2" fill="none" stroke="#3cb371" stroke-width="1" />
</g>
<rect x="2" y="615" width="1" height="80" fill="#c0c0c0"/>
<rect x="10" y="617" width="1" height="78" fill="#c0c0c0"/>
<rect x="18" y="618" width="1" height="77" fill="#c0c0c0"/>
<rect x="26" y="619" width="1" height="76" fill="#c0c0c0"/>
<rect x="34" y="619" width="1" height="76" fill="#c0c0c0"/>
<rect x="42" y="615" width="1" height="80" fill="#c0c0c0"/>
<rect x="50" y="620" width="1" height="75" fill="#c0c0c0"/>
<rect x="58" y="623" width="1" height="72" fill="#c0c0c0"/>
<rect x="66" y="632" width="1" height="63" fill="#c0c0c0"/>
<rect x="74" y="638" width="1" height="57" fill="#c0c0c0"/>
<rect x="82" y="644" width="1" height="51" fill="#c0c0c0"/>
<rect x="90" y="647" width="1" height="48" fill="#c0c0c0"/>
<rect x="98" y="649" width="1" height="46" fill="#c0c0c0"/>
<rect x="106" y="653" width="1" height="42" fill="#c0c0c0"/>
<rect x="114" y="652" width="1" height="43" fill="#c0c0c0"/>
<rect x="122" y="649" width="1" height="46" fill="#c0c0c0"/>
<rect x="130" y="646" width="1" height="49" fill="#c0c0c0"/>
<rect x="138" y="646" width="1" height="49" fill="#c0c0c0"/>
<rect x="146" y="651" width="1" height="44" fill="#c0c0c0"/>
<rect x="154" y="656" width="1" height="39" fill="#c0c0c0"/>
<rect x="162" y="659" width="1" height="36" fill="#c0c0c0"/>
<rect x="170" y="664" width="1" height="31" fill="#c0c0c0"/>
<rect x="178" y="669" width="1" height="26" fill="#c0c0c0"/>
<rect x="186" y="676" width="1" height="19" fill="#c0c0c0"/>
<rect x="194" y="680" width="1" height="15" fill="#c0c0c0"/>
<rect x="202" y="682" width="1" height="13" fill="#c0c0c0"/>
<rect x="210" y="683" width="1" height="12" fill="#c0c0c0"/>
<rect x="218" y="683" width="1" height="12" fill="#c0c0c0"/>
<rect x="226" y="681" width="1" height="14" fill="#c0c0c0"/>
<rect x="234" y="682" width="1" height="13" fill="#c0c0c0"/>
<rect x="242" y="685" width="1" height="10" fill="#c0c0c0"/>
<rect x="250" y="685" width="1" height="10" fill="#c0c0c0"/>
<rect x="258" y="685" width="1" height="10" fill="#c0c0c0"/>
<rect x="266" y="685" width="1" height="10" fill="#c0c0c0"/>
<rect x="274" y="691" width="1" height="4" fill="#c0c0c0"/>
<rect x="282" y="694" width="1" height="6" fill="#c0c0c0"/>
<rect x="290" y="694" width="1" height="16" fill="#c0c0c0"/>
<rect x="298" y="694" width="1" height="23" fill="#c0c0c0"/>
<rect x="306" y="694" width="1" height="31" fill="#c0c0c0"/>
<rect x="314" y="694" width="1" height="36" fill="#c0c0c0"/>
<rect x="322" y="694" width="1" height="37" fill="#c0c0c0"/>
<rect x="330" y="694" width="1" height="33" fill="#c0c0c0"/>
<rect x="338" y="694" width="1" height="31" fill="#c0c0c0"/>
<rect x="346" y="694" width="1" height="27" fill="#c0c0c0"/>
<rect x="354" y="694" width="1" height="27" fill="#c0c0c0"/>
<rect x="362" y="694" width="1" height="25" fill="#c0c0c0"/>
<rect x="370" y="694" width="1" height="19" fill="#c0c0c0"/>
<rect x="378" y="694" width="1" height="17" fill="#c0c0c0"/>
<rect x="386" y="694" width="1" height="14" fill="#c0c0c0"/>
<rect x="394" y="694" width="1" height="11" fill="#c0c0c0"/>
<rect x="402" y="694" width="1" height="5" fill="#c0c0c0"/>
<rect x="410" y="694" width="1" height="1" fill="#c0c0c0"/>
<rect x="418" y="691" width="1" height="4" fill="#c0c0c0"/>
<rect x="426" y="693" width="1" height="2" fill="#c0c0c0"/>
<rect x="434" y="694" width="1" height="2" fill="#c0c0c0"/>
<rect x="442" y="694" width="1" height="5" fill="#c0c0c0"/>
<rect x="450" y="694" width="1" height="8" fill="#c0c0c0"/>
<rect x="458" y="694" width="1" height="9" fill="#c0c0c0"/>
<rect x="466" y="694" width="1" height="7" fill="#c0c0c0"/>
<rect x="474" y="694" width="1" height="1" fill="#c0c0c0"/>
<rect x="482" y="688" width="1" height="7" fill="#c0c0c0"/>
<rect x="490" y="686" width="1" height="9" fill="#c0c0c0"/>
<rect x="498" y="681" width="1" height="14" fill="#c0c0c0"/>
<rect x="506" y="679" width="1" height="16" fill="#c0c0c0"/>
<rect x="514" y="679" width="1" height="16" fill="#c0c0c0"/>
<rect x="522" y="682" width="1" height="13" fill="#c0c0c0"/>
<rect x="530" y="686" width="1" height="9" fill="#c0c0c0"/>
<rect x="538" y="694" width="1" height="2" fill="#c0c0c0"/>
<rect x="546" y="694" width="1" height="10" fill="#c0c0c0"/>
<rect x="554" y="694" width="1" height="17" fill="#c0c0c0"/>
<rect x="562" y="694" width="1" height="22" fill="#c0c0c0"/>
<rect x="570" y="694" width="1" height="18" fill="#c0c0c0"/>
<rect x="578" y="694" width="1" height="17" fill="#c0c0c0"/>
<rect x="586" y="694" width="1" height="10" fill="#c0c0c0"/>
<rect x="594" y="693" width="1" height="2" fill="#c0c0c0"/>
<rect x="602" y="684" width="1" height="11" fill="#c0c0c0"/>
<rect x="610" y="682" width="1" height="13" fill="#c0c0c0"/>
<rect x="618" y="681" width="1" height="14" fill="#c0c0c0"/>
<rect x="626" y="683" width="1" height="12" fill="#c0c0c0"/>
<rect x="634" y="683" width="1" height="12" fill="#c0c0c0"/>
<rect x="642" y="681" width="1" height="14" fill="#c0c0c0"/>
<rect x="650" y="679" width="1" height="16" fill="#c0c0c0"/>
<rect x="658" y="677" width="1" height="18" fill="#c0c0c0"/>
<rect x="666" y="675" width="1" height="20" fill="#c0c0c0"/>
<rect x="674" y="675" width="1" height="20" fill="#c0c0c0"/>
<rect x="682" y="673" width="1" height="22" fill="#c0c0c0"/>
<rect x="690" y="673" width="1" height="22" fill="#c0c0c0"/>
<rect x="698" y="673" width="1" height="22" fill="#c0c0c0"/>
<rect x="706" y="674" width="1" height="21" fill="#c0c0c0"/>
<rect x="714" y="672" width="1" height="23" fill="#c0c0c0"/>
<rect x="722" y="669" width="1" height="26" fill="#c0c0c0"/>
<rect x="730" y="668" width="1" height="27" fill="#c0c0c0"/>
<rect x="738" y="664" width="1" height="31" fill="#c0c0c0"/>
<rect x="746" y="660" width="1" height="35" fill="#c0c0c0"/>
<rect x="754" y="659" width="1" height="36" fill="#c0c0c0"/>
<rect x="762" y="651" width="1" height="44" fill="#c0c0c0"/>
<rect x="770" y="641" width="1" height="54" fill="#c0c0c0"/>
<rect x="778" y="632" width="1" height="63" fill="#c0c0c0"/>
<rect x="786" y="627" width="1" height="68" fill="#c0c0c0"/>
<rect x="794" y="624" width="1" height="71" fill="#c0c0c0"/>
<rect x="802" y="624" width="1" height="71" fill="#c0c0c0"/>
<rect x="810" y="624" width="1" height="71" fill="#c0c0c0"/>
<rect x="818" y="628" width="1" height="67" fill="#c0c0c0"/>
<rect x="826" y="626" width="1" height="69" fill="#c0c0c0"/>
<rect x="834" y="628" width="1" height="67" fill="#c0c0c0"/>
<rect x="842" y="629" width="1" height="66" fill="#c0c0c0"/>
<rect x="850" y="630" width="1" height="65" fill="#c0c0c0"/>
<rect x="858" y="630" width="1" height="65" fill="#c0c0c0"/>
<rect x="866" y="629" width="1" height="66" fill="#c0c0c0"/>
<rect x="874" y="624" width="1" height="71" fill="#c0c0c0"/>
<rect x="882" y="622" width="1" height="73" fill="#c0c0c0"/>
<rect x="890" y="624" width="1" height="71" fill="#c0c0c0"/>
<rect x="898" y="624" width="1" height="71" fill="#c0c0c0"/>
<rect x="906" y="628" width="1" height="67" fill="#c0c0c0"/>
<rect x="914" y="632" width="1" height="63" fill="#c0c0c0"/>
<rect x="922" y="637" width="1" height="58" fill="#c0c0c0"/>
<rect x="930" y="639" width="1" height="56" fill="#c0c0c0"/>
<rect x="938" y="641" width="1" height="54" fill="#c0c0c0"/>
<rect x="946" y="641" width="1" height="54" fill="#c0c0c0"/>
<rect x="954" y="638" width="1" height="57" fill="#c0c0c0"/>
<rect x="962" y="642" width="1" height="53" fill="#c0c0c0"/>
<rect x="970" y="643" width="1" height="52" fill="#c0c0c0"/>
<rect x="978" y="645" width="1" height="50" fill="#c0c0c0"/>
<rect x="986" y="644" width="1" height="51" fill="#c0c0c0"/>
<rect x="994" y="640" width="1" height="55" fill="#c0c0c0"/>
<rect x="1002" y="643" width="1" height="52" fill="#c0c0c0"/>
<rect x="1010" y="650" width="1" height="45" fill="#c0c0c0"/>
<rect x="1018" y="657" width="1" height="38" fill="#c0c0c0"/>
<rect x="1026" y="665" width="1" height="30" fill="#c0c0c0"/>
<rect x="1034" y="669" width="1" height="26" fill="#c0c0c0"/>
<rect x="1042" y="675" width="1" height="20" fill="#c0c0c0"/>
<rect x="1050" y="681" width="1" height="14" fill="#c0c0c0"/>
<rect x="1058" y="691" width="1" height="4" fill="#c0c0c0"/>
<rect x="1066" y="694" width="1" height="6" fill="#c0c0c0"/>
<rect x="1074" y="694" width="1" height="11" fill="#c0c0c0"/>
<rect x="1082" y="694" width="1" height="12" fill="#c0c0c0"/>
<rect x="1090" y="694" width="1" height="13" fill="#c0c0c0"/>
<rect x="1098" y="694" width="1" height="11" fill="#c0c0c0"/>
<rect x="1106" y="694" width="1" height="9" fill="#c0c0c0"/>
<rect x="1114" y="694" width="1" height="7" fill="#c0c0c0"/>
<rect x="1122" y="694" width="1" height="8" fill="#c0c0c0"/>
<rect x="1130" y="694" width="1" height="7" fill="#c0c0c0"/>
<rect x="1138" y="694" width="1" height="10" fill="#c0c0c0"/>
<rect x="1146" y="694" width="1" height="11" fill="#c0c0c0"/>
<rect x="1154" y="694" width="1" height="11" fill="#c0c0c0"/>
<rect x="1162" y="694" width="1" height="11" fill="#c0c0c0"/>
<rect x="1170" y="694" width="1" height="15" fill="#c0c0c0"/>
<rect x="1178" y="694" width="1" height="21" fill="#c0c0c0"/>
<rect x="1186" y="694" width="1" height="24" fill="#c0c0c0"/>
<rect x="1194" y="694" width="1" height="32" fill="#c0c0c0"/>
<rect x="1202" y="694" width="1" height="32" fill="#c0c0c0"/>
<rect x="1210" y="694" width="1" height="31" fill="#c0c0c0"/>
<rect x="1218" y="694" width="1" height="30" fill="#c0c0c0"/>
<rect x="1226" y="694" width="1" height="25" fill="#c0c0c0"/>
<rect x="1234" y="694" width="1" height="20" fill="#c0c0c0"/>
<rect x="1242" y="694" width="1" height="16" fill="#c0c0c0"/>
<rect x="1250" y="694" width="1" height="13" fill="#c0c0c0"/>
<rect x="1258" y="694" width="1" height="10" fill="#c0c0c0"/>
<rect x="1266" y="694" width="1" height="7" fill="#c0c0c0"/>
<rect x="1274" y="694" width="1" height="8" fill="#c0c0c0"/>
<rect x="1282" y="694" width="1" height="11" fill="#c0c0c0"/>
<rect x="1290" y="694" width="1" height="11" fill="#c0c0c0"/>
<rect x="1298" y="694" width="1" height="8" fill="#c0c0c0"/>
<rect x="1306" y="694" width="1" height="6" fill="#c0c0c0"/>
<rect x="1314" y="694" width="1" height="1" fill="#c0c0c0"/>
<rect x="1322" y="691" width="1" height="4" fill="#c0c0c0"/>
<rect x="1330" y="688" width="1" height="7" fill="#c0c0c0"/>
<rect x="1338" y="686" width="1" height="9" fill="#c0c0c0"/>
<rect x="1346" y="691" width="1" height="4" fill="#c0c0c0"/>
<rect x="1354" y="693" width="1" height="2" fill="#c0c0c0"/>
<rect x="1362" y="694" width="1" height="5" fill="#c0c0c0"/>
<rect x="1370" y="694" width="1" height="6" fill="#c0c0c0"/>
<rect x="1378" y="694" width="1" height="9" fill="#c0c0c0"/>
<rect x="1386" y="694" width="1" height="17" fill="#c0c0c0"/>
<rect x="1394" y="694" width="1" height="27" fill="#c0c0c0"/>
<rect x="1402" y="694" width="1" height="34" fill="#c0c0c0"/>
<rect x="1410" y="694" width="1" height="43" fill="#c0c0c0"/>
<rect x="1418" y="694" width="1" height="47" fill="#c0c0c0"/>
<polyline points="-6.5,586.5 2.5,590.0 10.5,593.7 18.5,597.4 26.5,601.1 34.5,604.9 42.5,608.6 50.5,612.3 58.5,616.0 66.5,619.7 74.5,622.4 82.5,625.4 90.5,628.6 98.5,632.0 106.5,635.8 114.5,639.8 122.5,643.1 130.5,645.7 138.5,647.3 146.5,648.7 154.5,650.0 162.5,651.3 170.5,653.0 178.5,654.7 186.5,657.5 194.5,660.9 202.5,664.8 210.5,668.9 218.5,672.5 226.5,675.3 234.5,677.8 242.5,680.2 250.5,682.0 258.5,683.0 266.5,683.5 274.5,684.5 282.5,686.3 290.5,689.3 298.5,693.1 306.5,697.7 314.5,702.6 322.5,707.6 330.5,712.3 338.5,716.6 346.5,719.9 354.5,722.1 362.5,723.1 370.5,722.6 378.5,721.1 386.5,718.6 394.5,715.7 402.5,712.6 410.5,709.2 418.5,705.9 426.5,702.9 434.5,700.3 442.5,698.9 450.5,697.8 458.5,697.3 466.5,696.8 474.5,696.4 482.5,695.8 490.5,695.3 498.5,694.0 506.5,692.2 514.5,690.1 522.5,688.0 530.5,686.2 538.5,685.6 546.5,686.6 554.5,689.1 562.5,692.4 570.5,695.7 578.5,699.1 586.5,701.7 594.5,702.9 602.5,702.7 610.5,701.3 618.5,698.8 626.5,695.8 634.5,692.2 642.5,688.8 650.5,685.4 658.5,682.5 666.5,680.5 674.5,679.5 682.5,678.5 690.5,677.6 698.5,676.5 706.5,675.5 714.5,674.5 722.5,673.4 730.5,672.4 738.5,671.2 746.5,669.5 754.5,668.0 762.5,665.5 770.5,662.0 778.5,657.3 786.5,652.2 794.5,647.2 802.5,642.3 810.5,638.0 818.5,634.4 826.5,630.7 834.5,628.3 842.5,627.0 850.5,626.7 858.5,627.1 866.5,627.7 874.5,627.7 882.5,627.5 890.5,627.0 898.5,626.8 906.5,626.8 914.5,627.1 922.5,627.8 930.5,628.8 938.5,630.2 946.5,632.0 954.5,633.7 962.5,635.8 970.5,637.9 978.5,639.8 986.5,641.0 994.5,641.4 1002.5,641.9 1010.5,642.9 1018.5,644.8 1026.5,647.8 1034.5,650.8 1042.5,654.3 1050.5,658.3 1058.5,663.5 1066.5,670.0 1074.5,676.8 1082.5,682.8 1090.5,688.3 1098.5,692.6 1106.5,696.3 1114.5,699.1 1122.5,701.4 1130.5,702.4 1138.5,702.8 1146.5,702.7 1154.5,702.6 1162.5,702.4 1170.5,702.9 1178.5,704.2 1186.5,706.0 1194.5,708.6 1202.5,711.4 1210.5,713.9 1218.5,716.0 1226.5,717.6 1234.5,718.6 1242.5,718.6 1250.5,717.7 1258.5,716.2 1266.5,713.5 1274.5,710.8 1282.5,708.6 1290.5,706.4 1298.5,704.5 1306.5,702.9 1314.5,701.3 1322.5,699.7 1330.5,698.0 1338.5,696.5 1346.5,695.4 1354.5,694.1 1362.5,693.4 1370.5,693.1 1378.5,693.5 1386.5,695.3 1394.5,698.5 1402.5,702.8 1410.5,708.3 1418.5,713.9" fill="none" stroke="#ff0000" stroke-width="1" stroke-dasharray="3 3"/>
<polyline points="-5.5,822.5 2.5,816.6 10.5,814.0 18.5,811.3 26.5,809.8 34.5,807.1 42.5,799.8 50.5,821.5 58.5,818.2 66.5,832.2 74.5,830.8 82.5,831.3 90.5,825.5 98.5,824.9 106.5,828.9 114.5,818.7 122.5,815.2 130.5,812.9 138.5,816.5 146.5,831.9 154.5,832.4 162.5,830.7 170.5,834.5 178.5,837.8 186.5,847.1 194.5,839.6 202.5,836.2 210.5,834.5 218.5,832.4 226.5,827.1 234.5,833.5 242.5,841.6 250.5,832.3 258.5,831.4 266.5,833.2 274.5,850.7 282.5,859.8 290.5,866.4 298.5,861.7 306.5,868.5 314.5,865.5 322.5,854.9 330.5,841.7 338.5,845.0 346.5,840.6 354.5,846.6 362.5,844.7 370.5,831.3 378.5,841.2 386.5,836.0 394.5,835.5 402.5,826.0 410.5,827.6 418.5,828.5 426.5,842.5 434.5,842.5 442.5,849.2 450.5,846.2 458.5,846.8 466.5,834.9 474.5,824.2 482.5,820.1 490.5,829.2 498.5,821.7 506.5,824.1 514.5,833.1 522.5,838.5 530.5,844.9 538.5,856.3 546.5,861.2 554.5,861.2 562.5,861.2 570.5,835.5 578.5,840.9 586.5,827.3 594.5,818.8 602.5,817.3 610.5,830.2 618.5,831.2 626.5,837.7 634.5,833.7 642.5,829.1 650.5,827.3 658.5,825.0 666.5,824.3 674.5,828.7 682.5,825.0 690.5,826.8 698.5,825.3 706.5,831.8 714.5,820.9 722.5,817.4 730.5,819.4 738.5,811.5 746.5,809.2 754.5,818.8 762.5,800.8 770.5,796.7 778.5,793.9 786.5,795.9 794.5,801.2 802.5,804.5 810.5,804.5 818.5,813.6 826.5,804.3 834.5,813.0 842.5,810.3 850.5,807.9 858.5,807.0 866.5,801.4 874.5,794.2 882.5,800.0 890.5,808.8 898.5,805.7 906.5,818.2 914.5,817.3 922.5,820.4 930.5,816.6 938.5,813.9 946.5,808.7 954.5,802.2 962.5,824.9 970.5,819.0 978.5,818.6 986.5,811.9 994.5,806.8 1002.5,823.4 1010.5,833.9 1018.5,838.9 1026.5,843.4 1034.5,834.5 1042.5,843.0 1050.5,844.6 1058.5,855.6 1066.5,856.8 1074.5,854.3 1082.5,842.0 1090.5,846.3 1098.5,836.7 1106.5,836.7 1114.5,836.4 1122.5,841.6 1130.5,837.1 1138.5,848.4 1146.5,844.6 1154.5,842.3 1162.5,844.4 1170.5,854.4 1178.5,859.6 1186.5,857.6 1194.5,868.9 1202.5,850.5 1210.5,849.3 1218.5,848.7 1226.5,835.6 1234.5,835.1 1242.5,832.8 1250.5,836.3 1258.5,835.4 1266.5,832.4 1274.5,843.1 1282.5,851.8 1290.5,840.8 1298.5,835.2 1306.5,833.7 1314.5,825.6 1322.5,829.2 1330.5,825.1 1338.5,829.0 1346.5,846.8 1354.5,843.1 1362.5,851.4 1370.5,842.7 1378.5,849.9 1386.5,861.8 1394.5,868.6 1402.5,864.8 1410.5,873.2 1418.5,861.9" fill="none" stroke="#1e90ff" stroke-width="1" /></g>
<g><rect x="923.5" y="43.5" width="61" height="18" fill="#fff" stroke="#f00" stroke-width="1" shape-rendering="crispEdges"/>
<text x="924.5" y="59" font-size="16.5" fill="#f00" letter-spacing="0">1.23454</text>
<rect x="985" y="52" width="9" height="1" fill="#f00"/>
<rect x="1267.5" y="114.5" width="61" height="18" fill="#fff" stroke="#f00" stroke-width="1" shape-rendering="crispEdges"/>
<text x="1268.5" y="130" font-size="16.5" fill="#f00" letter-spacing="0">1.22418</text>
<rect x="1329" y="123" width="9" height="1" fill="#f00"/>
<rect x="67.5" y="273.5" width="61" height="18" fill="#fff" stroke="#f00" stroke-width="1" shape-rendering="crispEdges"/>
<text x="68.5" y="289" font-size="16.5" fill="#f00" letter-spacing="0">1.20100</text>
<rect x="129" y="282" width="9" height="1" fill="#f00"/>
<rect x="1131.5" y="313.5" width="61" height="18" fill="#fff" stroke="#f00" stroke-width="1" shape-rendering="crispEdges"/>
<text x="1132.5" y="329" font-size="16.5" fill="#f00" letter-spacing="0">1.19520</text>
<rect x="507.5" y="555.5" width="61" height="18" fill="#fff" stroke="#f00" stroke-width="1" shape-rendering="crispEdges"/>
<text x="508.5" y="571" font-size="16.5" fill="#f00" letter-spacing="0">1.15991</text>
<rect x="569" y="564" width="9" height="1" fill="#f00"/>
<rect x="1347.5" y="393.5" width="61" height="18" fill="#fff" stroke="#f00" stroke-width="1" shape-rendering="crispEdges"/>
<text x="1348.5" y="409" font-size="16.5" fill="#f00" letter-spacing="0">1.18354</text>
<rect x="1409" y="402" width="9" height="1" fill="#f00"/>
<rect x="1157.5" y="355.5" width="73" height="24" fill="#fff" stroke="#f00" stroke-width="1" shape-rendering="crispEdges"/>
<text x="1158" y="375.5" font-size="23" fill="#f00" letter-spacing="-1.8" stroke="#f00" stroke-width="0.5">1.18864</text>
<rect x="1193.5" y="320.5" width="2" height="3" fill="#fff" stroke="#f00" shape-rendering="crispEdges"/>
<rect x="1147" y="367" width="7" height="1" fill="#f00"/>
<rect x="1153.5" y="365.5" width="4" height="4" fill="#fff" stroke="#f00" stroke-width="1"/>
<rect x="1679.5" y="320.5" width="4" height="4" fill="#fff" stroke="#f00" stroke-width="1"/>
<rect x="1679.5" y="336.5" width="4" height="4" fill="#fff" stroke="#f00" stroke-width="1"/>
<rect x="1679.5" y="383.5" width="4" height="4" fill="#fff" stroke="#00f" stroke-width="1"/>
<rect x="1679.5" y="409.5" width="4" height="4" fill="#fff" stroke="#00f" stroke-width="1"/>
<rect x="1326" y="363" width="149" height="7" fill="#00ff00"/>
<text x="1500" y="382" font-size="20" fill="#00ff00" letter-spacing="1.5">多空转折点</text>
<line x1="1342.5" y1="173" x2="1414.7" y2="389.6" stroke="#f00" stroke-width="3.6" stroke-linecap="square" shape-rendering="crispEdges"/>
<polygon points="1418.5,401 1409.5,391.4 1419.9,387.9" fill="#f00" shape-rendering="crispEdges"/>
<line x1="1418.5" y1="399" x2="1422.1" y2="380.8" stroke="#f00" stroke-width="3.5" stroke-linecap="square" shape-rendering="crispEdges"/>
<polygon points="1424,371 1427.0,381.8 1417.2,379.8" fill="#f00" shape-rendering="crispEdges"/>
<line x1="1355.5" y1="684.5" x2="1403.5" y2="727.0" stroke="#f00" stroke-width="3.2" stroke-linecap="square" shape-rendering="crispEdges"/>
<polygon points="1412.5,735 1399.5,731.5 1407.5,722.6" fill="#f00" shape-rendering="crispEdges"/>
<line x1="1316.5" y1="820" x2="1399.5" y2="866.2" stroke="#f00" stroke-width="3.4" stroke-linecap="square" shape-rendering="crispEdges"/>
<polygon points="1410,872 1396.4,871.8 1402.7,860.5" fill="#f00" shape-rendering="crispEdges"/>
<line x1="1402" y1="872" x2="1415.8" y2="868.5" stroke="#f00" stroke-width="3.5" stroke-linecap="square" shape-rendering="crispEdges"/>
<polygon points="1425.5,866 1417.3,874.3 1414.3,862.7" fill="#f00" shape-rendering="crispEdges"/>
<polygon points="1425,24 1434,24 1429.5,29" fill="#c0c0c0"/></g>
<g><rect x="1684" y="46" width="3" height="1" fill="#000"/>
<text x="1690" y="50" font-size="10" fill="#000" letter-spacing="-0.45">1.23560</text>
<rect x="1684" y="79" width="3" height="1" fill="#000"/>
<text x="1690" y="83" font-size="10" fill="#000" letter-spacing="-0.45">1.23080</text>
<rect x="1684" y="112" width="3" height="1" fill="#000"/>
<text x="1690" y="116" font-size="10" fill="#000" letter-spacing="-0.45">1.22600</text>
<rect x="1684" y="145" width="3" height="1" fill="#000"/>
<text x="1690" y="149" font-size="10" fill="#000" letter-spacing="-0.45">1.22110</text>
<rect x="1684" y="178" width="3" height="1" fill="#000"/>
<text x="1690" y="182" font-size="10" fill="#000" letter-spacing="-0.45">1.21630</text>
<rect x="1684" y="211" width="3" height="1" fill="#000"/>
<text x="1690" y="215" font-size="10" fill="#000" letter-spacing="-0.45">1.21150</text>
<rect x="1684" y="244" width="3" height="1" fill="#000"/>
<text x="1690" y="248" font-size="10" fill="#000" letter-spacing="-0.45">1.20670</text>
<rect x="1684" y="276" width="3" height="1" fill="#000"/>
<text x="1690" y="280" font-size="10" fill="#000" letter-spacing="-0.45">1.20190</text>
<rect x="1684" y="309" width="3" height="1" fill="#000"/>
<text x="1690" y="313" font-size="10" fill="#000" letter-spacing="-0.45">1.19710</text>
<rect x="1684" y="343" width="3" height="1" fill="#000"/>
<text x="1690" y="347" font-size="10" fill="#000" letter-spacing="-0.45">1.19220</text>
<rect x="1684" y="375" width="3" height="1" fill="#000"/>
<text x="1690" y="379" font-size="10" fill="#000" letter-spacing="-0.45">1.18740</text>
<rect x="1684" y="408" width="3" height="1" fill="#000"/>
<rect x="1684" y="441" width="3" height="1" fill="#000"/>
<text x="1690" y="445" font-size="10" fill="#000" letter-spacing="-0.45">1.17780</text>
<rect x="1684" y="474" width="3" height="1" fill="#000"/>
<text x="1690" y="478" font-size="10" fill="#000" letter-spacing="-0.45">1.17300</text>
<rect x="1684" y="507" width="3" height="1" fill="#000"/>
<text x="1690" y="511" font-size="10" fill="#000" letter-spacing="-0.45">1.16820</text>
<rect x="1684" y="539" width="3" height="1" fill="#000"/>
<text x="1690" y="543" font-size="10" fill="#000" letter-spacing="-0.45">1.16340</text>
<rect x="1684" y="573" width="3" height="1" fill="#000"/>
<text x="1690" y="577" font-size="10" fill="#000" letter-spacing="-0.45">1.15850</text>
<rect x="1686" y="316" width="41" height="11" fill="#ff0000"/>
<text x="1690" y="325" font-size="10" fill="#fff" letter-spacing="-0.6">1.19520</text>
<rect x="1686" y="332" width="41" height="11" fill="#ff0000"/>
<text x="1690" y="341" font-size="10" fill="#fff" letter-spacing="-0.6">1.19287</text>
<rect x="1686" y="352" width="41" height="11" fill="#000000"/>
<text x="1690" y="361" font-size="10" fill="#fff" letter-spacing="-0.6">1.19001</text>
<rect x="1686" y="361" width="41" height="11" fill="#ffa500"/>
<text x="1690" y="370" font-size="10" fill="#fff" letter-spacing="-0.6">1.18864</text>
<rect x="1686" y="379" width="41" height="11" fill="#0000ff"/>
<text x="1690" y="388" font-size="10" fill="#fff" letter-spacing="-0.6">1.18602</text>
<rect x="1686" y="405" width="41" height="11" fill="#0000ff"/>
<text x="1690" y="414" font-size="10" fill="#fff" letter-spacing="-0.6">1.18223</text>
<rect x="1684" y="580" width="3" height="1" fill="#000"/>
<rect x="1684" y="694" width="3" height="1" fill="#000"/>
<rect x="1684" y="747" width="3" height="1" fill="#000"/>
<text x="1688" y="590" font-size="10" fill="#000" letter-spacing="-0.6">0.013387</text>
<text x="1688" y="698" font-size="10" fill="#000" letter-spacing="-0.6">0.00</text>
<text x="1688" y="745" font-size="10" fill="#000" letter-spacing="-0.6">-0.006277</text>
<rect x="1684" y="752" width="3" height="1" fill="#000"/>
<rect x="1684" y="786" width="3" height="1" fill="#000"/>
<rect x="1684" y="837" width="3" height="1" fill="#000"/>
<rect x="1684" y="898" width="3" height="1" fill="#000"/>
<rect x="1684" y="923" width="3" height="1" fill="#000"/>
<text x="1688" y="762" font-size="10" fill="#000" letter-spacing="-0.6">100</text>
<text x="1688" y="791" font-size="10" fill="#000" letter-spacing="-0.6">80</text>
<text x="1688" y="842" font-size="10" fill="#000" letter-spacing="-0.6">50</text>
<text x="1688" y="902" font-size="10" fill="#000" letter-spacing="-0.6">15</text>
<text x="1688" y="921" font-size="10" fill="#000" letter-spacing="-0.6">0</text>
<rect x="-6" y="925" width="1" height="3" fill="#000"/>
<text x="-7.5" y="937" font-size="10" fill="#000" letter-spacing="-0.15">11 Aug 2020</text>
<rect x="58" y="925" width="1" height="3" fill="#000"/>
<text x="56.5" y="937" font-size="10" fill="#000" letter-spacing="-0.15">20 Aug 2020</text>
<rect x="122" y="925" width="1" height="3" fill="#000"/>
<text x="120.5" y="937" font-size="10" fill="#000" letter-spacing="-0.15">30 Aug 2020</text>
<rect x="186" y="925" width="1" height="3" fill="#000"/>
<text x="184.5" y="937" font-size="10" fill="#000" letter-spacing="-0.15">8 Sep 2020</text>
<rect x="250" y="925" width="1" height="3" fill="#000"/>
<text x="248.5" y="937" font-size="10" fill="#000" letter-spacing="-0.15">17 Sep 2020</text>
<rect x="314" y="925" width="1" height="3" fill="#000"/>
<text x="312.5" y="937" font-size="10" fill="#000" letter-spacing="-0.15">27 Sep 2020</text>
<rect x="378" y="925" width="1" height="3" fill="#000"/>
<text x="376.5" y="937" font-size="10" fill="#000" letter-spacing="-0.15">6 Oct 2020</text>
<rect x="442" y="925" width="1" height="3" fill="#000"/>
<text x="440.5" y="937" font-size="10" fill="#000" letter-spacing="-0.15">15 Oct 2020</text>
<rect x="506" y="925" width="1" height="3" fill="#000"/>
<text x="504.5" y="937" font-size="10" fill="#000" letter-spacing="-0.15">25 Oct 2020</text>
<rect x="570" y="925" width="1" height="3" fill="#000"/>
<text x="568.5" y="937" font-size="10" fill="#000" letter-spacing="-0.15">3 Nov 2020</text>
<rect x="634" y="925" width="1" height="3" fill="#000"/>
<text x="632.5" y="937" font-size="10" fill="#000" letter-spacing="-0.15">12 Nov 2020</text>
<rect x="698" y="925" width="1" height="3" fill="#000"/>
<text x="696.5" y="937" font-size="10" fill="#000" letter-spacing="-0.15">22 Nov 2020</text>
<rect x="762" y="925" width="1" height="3" fill="#000"/>
<text x="760.5" y="937" font-size="10" fill="#000" letter-spacing="-0.15">1 Dec 2020</text>
<rect x="826" y="925" width="1" height="3" fill="#000"/>
<text x="824.5" y="937" font-size="10" fill="#000" letter-spacing="-0.15">10 Dec 2020</text>
<rect x="890" y="925" width="1" height="3" fill="#000"/>
<text x="888.5" y="937" font-size="10" fill="#000" letter-spacing="-0.15">20 Dec 2020</text>
<rect x="954" y="925" width="1" height="3" fill="#000"/>
<text x="952.5" y="937" font-size="10" fill="#000" letter-spacing="-0.15">30 Dec 2020</text>
<rect x="1018" y="925" width="1" height="3" fill="#000"/>
<text x="1016.5" y="937" font-size="10" fill="#000" letter-spacing="-0.15">10 Jan 2021</text>
<rect x="1082" y="925" width="1" height="3" fill="#000"/>
<text x="1080.5" y="937" font-size="10" fill="#000" letter-spacing="-0.15">19 Jan 2021</text>
<rect x="1146" y="925" width="1" height="3" fill="#000"/>
<text x="1144.5" y="937" font-size="10" fill="#000" letter-spacing="-0.15">28 Jan 2021</text>
<rect x="1210" y="925" width="1" height="3" fill="#000"/>
<text x="1208.5" y="937" font-size="10" fill="#000" letter-spacing="-0.15">7 Feb 2021</text>
<rect x="1274" y="925" width="1" height="3" fill="#000"/>
<text x="1272.5" y="937" font-size="10" fill="#000" letter-spacing="-0.15">16 Feb 2021</text>
<rect x="1338" y="925" width="1" height="3" fill="#000"/>
<text x="1336.5" y="937" font-size="10" fill="#000" letter-spacing="-0.15">25 Feb 2021</text>
<rect x="1402" y="925" width="1" height="3" fill="#000"/>
<text x="1400.5" y="937" font-size="10" fill="#000" letter-spacing="-0.15">7 Mar 2021</text>
<text x="0" y="591" font-size="10" fill="#000" letter-spacing="-0.4">MACD(12,26,9) -0.005383 -0.002280</text>
<text x="0" y="763" font-size="10" fill="#000" letter-spacing="-0.4">RSI(14) 35.4982</text>
<text x="9" y="35" font-size="10" fill="#000" letter-spacing="-0.3">EURUSD-,Daily&#160;&#160;1.18509 1.19149 1.18348 1.19001</text>
<polygon points="0,30 0,35 4,35" fill="#000"/></g>
</svg>
<div style="position:absolute;left:0;top:0;width:220px;height:110px;">
<!-- SELL -->
<div style="position:absolute;left:0;top:43px;width:49px;height:25px;background:#0000a8"></div>
<div style="position:absolute;left:0;top:44px;width:48px;height:24px;background:linear-gradient(#5a5aff,#3c3ce6)"></div>
<div style="position:absolute;left:0;top:67px;width:106px;height:40px;background:#0000a8"></div>
<div style="position:absolute;left:0;top:68px;width:105px;height:39px;background:linear-gradient(#3a3ae2,#0000b0)"></div>
<div style="position:absolute;left:0;top:66px;width:48px;height:2px;background:#3c3ce6"></div>
<div style="position:absolute;left:1px;top:66px;width:44px;height:1px;background:#0000a0"></div>
<div style="position:absolute;left:1px;top:67px;width:44px;height:1px;background:#8080ff"></div>
<div style="position:absolute;left:9px;top:48px;font-size:12px;color:#fff;letter-spacing:-0.6px">SELL</div>
<div style="position:absolute;left:17px;top:87px;font-size:12.5px;font-weight:bold;color:#fff;letter-spacing:-0.2px">1.19</div>
<div style="position:absolute;left:44px;top:67px;font-family:'Liberation Serif',serif;font-size:35px;color:#fff;line-height:40px;letter-spacing:0.8px">00</div>
<div style="position:absolute;left:85px;top:71px;font-size:12px;font-weight:bold;color:#fff">1</div>
<!-- BUY -->
<div style="position:absolute;left:163px;top:43px;width:54px;height:25px;background:#0000a8"></div>
<div style="position:absolute;left:164px;top:44px;width:52px;height:24px;background:linear-gradient(#5a5aff,#3c3ce6)"></div>
<div style="position:absolute;left:108px;top:67px;width:109px;height:40px;background:#0000a8"></div>
<div style="position:absolute;left:109px;top:68px;width:107px;height:39px;background:linear-gradient(#3a3ae2,#0000b0)"></div>
<div style="position:absolute;left:164px;top:66px;width:52px;height:2px;background:#3c3ce6"></div>
<div style="position:absolute;left:168px;top:66px;width:44px;height:1px;background:#0000a0"></div>
<div style="position:absolute;left:168px;top:67px;width:44px;height:1px;background:#8080ff"></div>
<div style="position:absolute;left:177px;top:48px;font-size:12px;color:#fff;letter-spacing:-0.6px">BUY</div>
<div style="position:absolute;left:127px;top:87px;font-size:12.5px;font-weight:bold;color:#fff;letter-spacing:-0.2px">1.19</div>
<div style="position:absolute;left:155px;top:67px;font-family:'Liberation Serif',serif;font-size:35px;color:#fff;line-height:40px;letter-spacing:1.5px">01</div>
<div style="position:absolute;left:195px;top:71px;font-size:12px;font-weight:bold;color:#fff">9</div>
<!-- volume -->
<div style="position:absolute;left:51px;top:43px;width:109px;height:20px;border:1px solid #a4a4a4;background:#fff"></div>
<div style="position:absolute;left:53px;top:45px;width:18px;height:18px;background:linear-gradient(#f0f0f0 0%,#ebebeb 45%,#d9d9d9 46%,#d4d4d4 100%)"></div>
<div style="position:absolute;left:72px;top:44px;width:1px;height:20px;background:#b4b4b4"></div>
<div style="position:absolute;left:141px;top:45px;width:18px;height:18px;background:linear-gradient(#f0f0f0 0%,#ebebeb 45%,#d9d9d9 46%,#d4d4d4 100%)"></div>
<div style="position:absolute;left:140px;top:44px;width:1px;height:20px;background:#b4b4b4"></div>
<svg style="position:absolute;left:0;top:0" width="220" height="70"><polygon points="59,52 65,52 62,55" fill="#4060c0"/><polygon points="147,55 153,55 150,52" fill="#4060c0"/></svg>
<div style="position:absolute;left:99px;top:47px;width:38px;text-align:right;font-size:12px;color:#000;letter-spacing:-0.1px">1.00</div>
</div>

<div id="rs"></div>
</body></html>
